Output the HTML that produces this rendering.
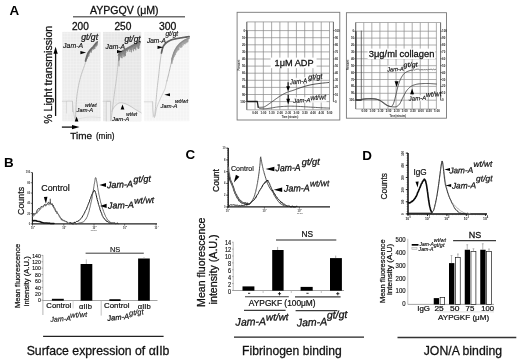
<!DOCTYPE html>
<html lang="en"><head><meta charset="utf-8"><title>Figure</title>
<style>
html,body{margin:0;padding:0;background:#fff;}
body{width:520px;height:363px;overflow:hidden;font-family:'Liberation Sans', sans-serif;}
svg{display:block;font-family:'Liberation Sans', sans-serif;}
</style></head><body>
<svg width="520" height="363" viewBox="0 0 520 363">
<defs>
<filter id="b1" x="-20%" y="-20%" width="140%" height="140%"><feGaussianBlur stdDeviation="0.45"/></filter>
<filter id="b2" x="-20%" y="-20%" width="140%" height="140%"><feGaussianBlur stdDeviation="0.8"/></filter>
<filter id="b0" x="-20%" y="-20%" width="140%" height="140%"><feGaussianBlur stdDeviation="0.3"/></filter>
</defs>
<rect width="520" height="363" fill="#fff"/>
<text x="9.4" y="15.3" font-size="13.4" font-weight="bold" fill="#000" >A</text>
<text x="4" y="167" font-size="13.4" font-weight="bold" fill="#000" >B</text>
<text x="185.5" y="158.8" font-size="13.4" font-weight="bold" fill="#000" >C</text>
<text x="362.3" y="160.2" font-size="13.4" font-weight="bold" fill="#000" >D</text>
<text x="90" y="14.4" font-size="10" fill="#111" stroke="#111" stroke-width="0.28" textLength="68.6" lengthAdjust="spacingAndGlyphs" >AYPGQV (μM)</text>
<line x1="73" y1="16.8" x2="185" y2="16.8" stroke="#6e6e6e" stroke-width="1.4" />
<text x="72" y="29.6" font-size="10" fill="#111" stroke="#111" stroke-width="0.28" textLength="16.8" lengthAdjust="spacingAndGlyphs" >200</text>
<text x="114.4" y="29.6" font-size="10" fill="#111" stroke="#111" stroke-width="0.28" textLength="17" lengthAdjust="spacingAndGlyphs" >250</text>
<text x="159" y="29.6" font-size="10" fill="#111" stroke="#111" stroke-width="0.28" textLength="17.4" lengthAdjust="spacingAndGlyphs" >300</text>
<text x="52" y="123.8" font-size="10.6" fill="#111" stroke="#111" stroke-width="0.28" textLength="98" lengthAdjust="spacingAndGlyphs" transform="rotate(-90 52 123.8)" >% Light transmission</text>
<line x1="55.6" y1="116" x2="55.6" y2="53" stroke="#111" stroke-width="1.3" />
<polygon points="55.60,46.80 57.75,53.80 53.45,53.80" fill="#000" />
<line x1="61.9" y1="127.1" x2="73" y2="127.1" stroke="#111" stroke-width="1.3" />
<polygon points="79.50,127.10 72.00,129.20 72.00,125.00" fill="#000" />
<text x="70.3" y="138.8" font-size="9.9" fill="#111" stroke="#111" stroke-width="0.28" textLength="21.7" lengthAdjust="spacingAndGlyphs" >Time</text>
<text x="95.9" y="138.6" font-size="8.2" fill="#111" stroke="#111" stroke-width="0.22" textLength="18.7" lengthAdjust="spacingAndGlyphs" >(min)</text>
<rect x="62.3" y="31.9" width="38.2" height="89.3" fill="#ececec" />
<path d="M64.30 31.9V121.2M67.40 31.9V121.2M70.50 31.9V121.2M73.60 31.9V121.2M76.70 31.9V121.2M79.80 31.9V121.2M82.90 31.9V121.2M86.00 31.9V121.2M89.10 31.9V121.2M92.20 31.9V121.2M95.30 31.9V121.2M98.40 31.9V121.2M62.3 33.40H100.5M62.3 36.50H100.5M62.3 39.60H100.5M62.3 42.70H100.5M62.3 45.80H100.5M62.3 48.90H100.5M62.3 52.00H100.5M62.3 55.10H100.5M62.3 58.20H100.5M62.3 61.30H100.5M62.3 64.40H100.5M62.3 67.50H100.5M62.3 70.60H100.5M62.3 73.70H100.5M62.3 76.80H100.5M62.3 79.90H100.5M62.3 83.00H100.5M62.3 86.10H100.5M62.3 89.20H100.5M62.3 92.30H100.5M62.3 95.40H100.5M62.3 98.50H100.5M62.3 101.60H100.5M62.3 104.70H100.5M62.3 107.80H100.5M62.3 110.90H100.5M62.3 114.00H100.5M62.3 117.10H100.5M62.3 120.20H100.5" stroke="#f5f5f5" stroke-width="0.5" fill="none"/>
<path d="M62.30 101.30 L72.30 101.30 L72.30 112.00 L72.30 101.30 L66.60 101.30 L66.60 113.00" fill="none" stroke="#c4c4c4" stroke-width="0.6" stroke-linejoin="round" stroke-linecap="round" />
<rect x="66.9" y="101.6" width="5.1" height="12" fill="#f0f0f0" />
<path d="M72.40 101.30 L73.20 110.00 L74.60 118.00 L76.00 120.40" fill="none" stroke="#c6c6c6" stroke-width="0.7" stroke-linejoin="round" stroke-linecap="round" />
<path d="M75.40 120.60 L75.51 118.20 L75.68 114.74 L75.85 111.05 L76.00 108.00 L76.11 105.83 L76.20 104.09 L76.29 102.55 L76.40 101.00 L76.53 99.44 L76.66 97.96 L76.82 96.50 L77.00 95.00 L77.22 93.42 L77.46 91.81 L77.73 90.19 L78.00 88.60 L78.27 87.06 L78.56 85.56 L78.86 84.05 L79.20 82.50 L79.58 80.89 L80.00 79.24 L80.44 77.60 L80.90 76.00 L81.38 74.46 L81.88 72.97 L82.39 71.49 L82.90 70.00 L83.43 68.50 L83.98 67.00 L84.51 65.50 L85.00 64.00 L85.47 62.36 L85.93 60.62 L86.32 59.08 L86.60 58.00" fill="none" stroke="#c2c2c2" stroke-width="1.0" stroke-linejoin="round" stroke-linecap="round" />
<path d="M86.20 58.49 L86.29 59.89 L86.39 58.11 L86.51 58.89 L86.64 57.21 L86.79 59.04 L86.95 55.96 L87.12 58.54 L87.29 54.93 L87.47 57.27 L87.64 53.98 L87.82 55.12 L88.00 53.35 L88.18 57.02 L88.36 52.47 L88.55 54.17 L88.75 52.13 L88.95 56.16 L89.15 51.50 L89.36 53.59 L89.56 51.17 L89.77 51.77 L89.98 50.55 L90.19 52.11 L90.40 49.59 L90.61 50.96 L90.83 49.17 L91.05 52.97 L91.27 48.60 L91.50 51.65 L91.73 48.41 L91.95 50.44 L92.17 47.90 L92.39 48.88 L92.60 47.17 L92.80 48.96 L93.00 47.11 L93.19 49.33 L93.37 46.47 L93.54 49.48 L93.70 46.15 L93.87 48.06 L94.03 45.96 L94.18 49.11 L94.34 45.25 L94.50 48.27 L94.66 45.02 L94.83 48.96 L95.00 44.74 L95.18 46.42 L95.38 44.44 L95.59 45.33 L95.80 43.60 L96.01 47.12 L96.22 42.94 L96.43 45.67 L96.62 42.41 L96.80 45.88 L96.96 42.44 L97.09 45.19 L97.20 42.23" fill="none" stroke="#808080" stroke-width="0.6" stroke-linejoin="round" stroke-linecap="round" filter="url(#b1)" opacity="0.95"/>
<path d="M85.60 61.00 L85.73 60.51 L85.91 59.81 L86.12 59.00 L86.36 58.14 L86.59 57.31 L86.80 56.60 L86.99 56.00 L87.16 55.46 L87.33 54.95 L87.51 54.45 L87.73 53.94 L88.00 53.40 L88.33 52.81 L88.70 52.20 L89.11 51.57 L89.54 50.96 L89.97 50.36 L90.40 49.80 L90.83 49.28 L91.27 48.79 L91.73 48.32 L92.17 47.87 L92.60 47.43 L93.00 47.00 L93.37 46.58 L93.70 46.18 L94.03 45.79 L94.34 45.40 L94.66 45.01 L95.00 44.60 L95.38 44.15 L95.80 43.65 L96.22 43.15 L96.62 42.68 L96.96 42.29 L97.20 42.00" fill="none" stroke="#6c6c6c" stroke-width="1.8" stroke-linejoin="round" stroke-linecap="round" filter="url(#b1)"/>
<path d="M76.50 120.00 L76.94 119.81 L77.53 119.53 L78.25 119.21 L79.08 118.89 L80.00 118.60 L81.04 118.33 L82.22 118.07 L83.48 117.81 L84.76 117.59 L86.00 117.40 L87.16 117.25 L88.29 117.13 L89.44 117.05 L90.66 117.00 L92.00 117.00 L93.63 117.07 L95.52 117.20 L97.40 117.36 L99.05 117.50 L100.20 117.60" fill="none" stroke="#d6d6d6" stroke-width="0.6" stroke-linejoin="round" stroke-linecap="round" />
<text x="81.2" y="40" font-size="8.8" font-style="italic" fill="#111" stroke="#111" stroke-width="0.22" textLength="16.9" lengthAdjust="spacingAndGlyphs" >gt/gt</text>
<text x="63.1" y="47.5" font-size="7.2" font-style="italic" fill="#111" stroke="#111" stroke-width="0.15" textLength="20" lengthAdjust="spacingAndGlyphs" >Jam-A</text>
<polygon points="86.10,52.60 80.40,54.25 80.40,50.95" fill="#000" />
<text x="85" y="106.8" font-size="5.2" font-style="italic" fill="#111" stroke="#111" stroke-width="0.15" textLength="11.6" lengthAdjust="spacingAndGlyphs" >wt/wt</text>
<text x="76.6" y="112.4" font-size="6.0" font-style="italic" fill="#111" stroke="#111" stroke-width="0.15" textLength="16.6" lengthAdjust="spacingAndGlyphs" >Jam-A</text>
<polygon points="76.60,116.60 78.40,121.40 74.80,121.40" fill="#000" />
<rect x="103.1" y="31.9" width="38.1" height="89.3" fill="#e6e6e6" />
<path d="M105.10 31.9V121.2M108.20 31.9V121.2M111.30 31.9V121.2M114.40 31.9V121.2M117.50 31.9V121.2M120.60 31.9V121.2M123.70 31.9V121.2M126.80 31.9V121.2M129.90 31.9V121.2M133.00 31.9V121.2M136.10 31.9V121.2M139.20 31.9V121.2M103.1 33.40H141.2M103.1 36.50H141.2M103.1 39.60H141.2M103.1 42.70H141.2M103.1 45.80H141.2M103.1 48.90H141.2M103.1 52.00H141.2M103.1 55.10H141.2M103.1 58.20H141.2M103.1 61.30H141.2M103.1 64.40H141.2M103.1 67.50H141.2M103.1 70.60H141.2M103.1 73.70H141.2M103.1 76.80H141.2M103.1 79.90H141.2M103.1 83.00H141.2M103.1 86.10H141.2M103.1 89.20H141.2M103.1 92.30H141.2M103.1 95.40H141.2M103.1 98.50H141.2M103.1 101.60H141.2M103.1 104.70H141.2M103.1 107.80H141.2M103.1 110.90H141.2M103.1 114.00H141.2M103.1 117.10H141.2M103.1 120.20H141.2" stroke="#f0f0f0" stroke-width="0.5" fill="none"/>
<path d="M111.90 111.40 L112.16 110.85 L112.53 110.06 L112.97 109.15 L113.46 108.23 L114.00 107.40 L114.60 106.65 L115.28 105.89 L115.99 105.17 L116.71 104.53 L117.40 104.00 L118.03 103.59 L118.64 103.27 L119.24 103.03 L119.89 102.88 L120.60 102.80 L121.39 102.81 L122.24 102.90 L123.14 103.07 L124.06 103.31 L125.00 103.60 L125.95 103.96 L126.93 104.39 L127.93 104.88 L128.95 105.42 L130.00 106.00 L131.08 106.65 L132.20 107.37 L133.33 108.13 L134.47 108.89 L135.60 109.60 L136.81 110.32 L138.11 111.06 L139.36 111.77 L140.44 112.37 L141.20 112.80 L141.2 121.2 L111.9 121.2 Z" fill="#f3f3f3"/>
<rect x="106.5" y="101.6" width="3.9" height="19.6" fill="#efefef" />
<path d="M103.10 101.30 L110.60 101.30 L110.60 121.00 L110.60 101.30 L106.30 101.30 L106.30 121.00" fill="none" stroke="#c2c2c2" stroke-width="0.6" stroke-linejoin="round" stroke-linecap="round" />
<path d="M111.90 111.40 L112.16 110.85 L112.53 110.06 L112.97 109.15 L113.46 108.23 L114.00 107.40 L114.60 106.65 L115.28 105.89 L115.99 105.17 L116.71 104.53 L117.40 104.00 L118.03 103.59 L118.64 103.27 L119.24 103.03 L119.89 102.88 L120.60 102.80 L121.39 102.81 L122.24 102.90 L123.14 103.07 L124.06 103.31 L125.00 103.60 L125.95 103.96 L126.93 104.39 L127.93 104.88 L128.95 105.42 L130.00 106.00 L131.08 106.65 L132.20 107.37 L133.33 108.13 L134.47 108.89 L135.60 109.60 L136.81 110.32 L138.11 111.06 L139.36 111.77 L140.44 112.37 L141.20 112.80" fill="none" stroke="#b4b4b4" stroke-width="0.7" stroke-linejoin="round" stroke-linecap="round" />
<path d="M111.00 120.60 L111.17 119.27 L111.40 117.46 L111.67 115.30 L111.98 112.92 L112.29 110.44 L112.60 108.00 L112.91 105.53 L113.23 102.92 L113.56 100.21 L113.90 97.46 L114.25 94.71 L114.60 92.00 L114.97 89.29 L115.36 86.52 L115.75 83.75 L116.13 81.04 L116.49 78.44 L116.80 76.00 L117.06 73.71 L117.30 71.52 L117.50 69.44 L117.68 67.48 L117.85 65.66 L118.00 64.00 L118.14 62.46 L118.27 61.04 L118.38 59.75 L118.47 58.63 L118.54 57.70 L118.60 57.00" fill="none" stroke="#c2c2c2" stroke-width="0.9" stroke-linejoin="round" stroke-linecap="round" />
<path d="M118.60 55.29 L118.63 60.66 L118.66 55.31 L118.70 59.85 L118.74 55.04 L118.78 61.07 L118.82 55.10 L118.87 58.82 L118.92 54.68 L118.97 56.28 L119.03 54.43 L119.09 59.23 L119.15 54.33 L119.22 59.91 L119.29 53.62 L119.37 57.24 L119.44 53.58 L119.53 54.97 L119.61 53.20 L119.70 55.53 L119.80 52.77 L119.90 54.72 L120.01 52.96 L120.12 54.91 L120.23 52.45 L120.35 56.16 L120.47 52.65 L120.60 54.28 L120.73 52.22 L120.87 56.68 L121.01 52.31 L121.15 58.00 L121.29 52.12 L121.44 54.85 L121.58 51.68 L121.73 55.12 L121.88 51.79 L122.04 58.24 L122.19 51.18 L122.35 53.76 L122.50 51.04 L122.65 53.89 L122.81 51.00 L122.97 55.66 L123.12 50.68 L123.28 52.26 L123.44 50.59 L123.60 54.08 L123.76 50.50 L123.93 57.11 L124.09 50.38 L124.26 54.51 L124.44 50.14 L124.62 55.19 L124.80 49.60 L124.99 56.22 L125.18 49.83 L125.38 55.86 L125.58 49.62 L125.79 52.98 L126.00 49.14 L126.22 51.14 L126.45 49.02 L126.69 50.65 L126.94 48.41 L127.19 51.17 L127.45 48.18 L127.71 51.60 L127.98 47.81 L128.25 49.43 L128.52 47.57 L128.79 49.68 L129.07 47.39 L129.34 48.95 L129.62 47.39 L129.89 51.89 L130.16 46.65 L130.43 49.60 L130.69 46.48 L130.95 49.94 L131.20 46.07 L131.45 52.34 L131.70 46.33 L131.95 49.97 L132.20 45.77 L132.45 47.63 L132.69 45.29 L132.94 48.79 L133.19 45.14 L133.43 51.22 L133.67 44.84 L133.92 46.55 L134.16 45.08 L134.40 49.10 L134.63 44.36 L134.87 48.95 L135.10 44.06 L135.33 48.64 L135.55 44.41 L135.78 50.26 L136.00 44.02 L136.22 46.72 L136.45 43.59 L136.68 45.98 L136.92 43.61 L137.15 47.75 L137.38 43.38 L137.62 46.40 L137.85 42.81 L138.08 48.82 L138.30 43.04 L138.52 48.83 L138.73 42.72 L138.93 48.44 L139.12 42.48 L139.30 45.00 L139.47 42.18 L139.62 45.54 L139.77 41.73 L139.89 43.61 L140.00 41.77" fill="none" stroke="#828282" stroke-width="0.65" stroke-linejoin="round" stroke-linecap="round" filter="url(#b1)" opacity="0.95"/>
<path d="M118.60 55.40 L118.71 55.13 L118.86 54.76 L119.03 54.31 L119.24 53.84 L119.50 53.39 L119.80 53.00 L120.15 52.67 L120.56 52.36 L121.01 52.08 L121.49 51.79 L121.99 51.50 L122.50 51.20 L123.02 50.89 L123.54 50.58 L124.09 50.27 L124.68 49.94 L125.31 49.59 L126.00 49.20 L126.77 48.76 L127.62 48.28 L128.52 47.78 L129.43 47.26 L130.34 46.76 L131.20 46.30 L132.03 45.87 L132.86 45.45 L133.67 45.04 L134.47 44.65 L135.25 44.27 L136.00 43.90 L136.76 43.52 L137.54 43.13 L138.30 42.75 L138.99 42.40 L139.57 42.11 L140.00 41.90" fill="none" stroke="#747474" stroke-width="1.9" stroke-linejoin="round" stroke-linecap="round" filter="url(#b1)"/>
<path d="M118.80 55.60 L119.00 66.00" fill="none" stroke="#9a9a9a" stroke-width="0.9" stroke-linejoin="round" stroke-linecap="round" filter="url(#b1)"/>
<text x="124.4" y="42.4" font-size="8.3" font-style="italic" fill="#111" stroke="#111" stroke-width="0.22" textLength="16.2" lengthAdjust="spacingAndGlyphs" >gt/gt</text>
<text x="105.6" y="48.8" font-size="7.2" font-style="italic" fill="#111" stroke="#111" stroke-width="0.15" textLength="19.4" lengthAdjust="spacingAndGlyphs" >Jam-A</text>
<polygon points="122.60,51.60 117.00,53.25 117.00,49.95" fill="#000" />
<polygon points="122.50,104.40 124.35,109.40 120.65,109.40" fill="#000" />
<text x="126.3" y="115.6" font-size="5.2" font-style="italic" fill="#111" stroke="#111" stroke-width="0.15" textLength="10.8" lengthAdjust="spacingAndGlyphs" >wt/wt</text>
<text x="111.9" y="121" font-size="6.2" font-style="italic" fill="#111" stroke="#111" stroke-width="0.15" textLength="17.4" lengthAdjust="spacingAndGlyphs" >Jam-A</text>
<rect x="144.3" y="31.9" width="45.0" height="89.3" fill="#f4f4f4" />
<path d="M146.30 31.9V121.2M149.40 31.9V121.2M152.50 31.9V121.2M155.60 31.9V121.2M158.70 31.9V121.2M161.80 31.9V121.2M164.90 31.9V121.2M168.00 31.9V121.2M171.10 31.9V121.2M174.20 31.9V121.2M177.30 31.9V121.2M180.40 31.9V121.2M183.50 31.9V121.2M186.60 31.9V121.2M144.3 33.40H189.3M144.3 36.50H189.3M144.3 39.60H189.3M144.3 42.70H189.3M144.3 45.80H189.3M144.3 48.90H189.3M144.3 52.00H189.3M144.3 55.10H189.3M144.3 58.20H189.3M144.3 61.30H189.3M144.3 64.40H189.3M144.3 67.50H189.3M144.3 70.60H189.3M144.3 73.70H189.3M144.3 76.80H189.3M144.3 79.90H189.3M144.3 83.00H189.3M144.3 86.10H189.3M144.3 89.20H189.3M144.3 92.30H189.3M144.3 95.40H189.3M144.3 98.50H189.3M144.3 101.60H189.3M144.3 104.70H189.3M144.3 107.80H189.3M144.3 110.90H189.3M144.3 114.00H189.3M144.3 117.10H189.3M144.3 120.20H189.3" stroke="#fbfbfb" stroke-width="0.5" fill="none"/>
<path d="M144.30 101.80 L152.40 101.80" fill="none" stroke="#c4c4c4" stroke-width="0.6" stroke-linejoin="round" stroke-linecap="round" />
<path d="M152.40 101.80 L152.80 110.00 L153.60 116.00 L154.40 117.60 L155.40 114.00 L156.60 108.00 L158.60 102.60 L161.60 96.00 L165.00 89.00 L167.00 80.60" fill="none" stroke="#c2c2c2" stroke-width="0.7" stroke-linejoin="round" stroke-linecap="round" />
<path d="M152.90 102.00 L152.90 117.00" fill="none" stroke="#cfcfcf" stroke-width="0.5" stroke-linejoin="round" stroke-linecap="round" />
<path d="M154.80 116.00 L154.91 114.72 L155.05 112.96 L155.23 110.88 L155.41 108.59 L155.61 106.25 L155.80 104.00 L155.98 101.78 L156.17 99.48 L156.36 97.12 L156.56 94.74 L156.77 92.36 L157.00 90.00 L157.25 87.66 L157.51 85.30 L157.79 82.94 L158.07 80.59 L158.34 78.28 L158.60 76.00 L158.84 73.75 L159.07 71.52 L159.30 69.31 L159.53 67.15 L159.76 65.04 L160.00 63.00 L160.26 60.98 L160.53 58.96 L160.80 57.00 L161.07 55.15 L161.34 53.46 L161.60 52.00 L161.86 50.76 L162.13 49.70 L162.40 48.81 L162.64 48.07 L162.85 47.47 L163.00 47.00" fill="none" stroke="#bdbdbd" stroke-width="0.9" stroke-linejoin="round" stroke-linecap="round" />
<path d="M161.40 53.00 L161.52 52.52 L161.66 51.87 L161.84 51.08 L162.04 50.23 L162.26 49.34 L162.49 48.47 L162.74 47.68 L163.00 47.00 L163.27 46.43 L163.56 45.91 L163.87 45.43 L164.19 44.98 L164.52 44.56 L164.87 44.17 L165.23 43.78 L165.60 43.40 L165.98 43.03 L166.38 42.67 L166.79 42.34 L167.21 42.02 L167.65 41.72 L168.09 41.43 L168.54 41.16 L169.00 40.90 L169.46 40.66 L169.93 40.44 L170.41 40.24 L170.90 40.06 L171.40 39.88 L171.92 39.72 L172.45 39.56 L173.00 39.40 L173.57 39.25 L174.16 39.11 L174.76 38.99 L175.38 38.87 L176.01 38.75 L176.66 38.64 L177.32 38.52 L178.00 38.40 L178.71 38.27 L179.45 38.15 L180.22 38.02 L180.99 37.89 L181.77 37.76 L182.54 37.64 L183.29 37.52 L184.00 37.40 L184.72 37.28 L185.46 37.17 L186.20 37.05 L186.93 36.94 L187.60 36.83 L188.20 36.74 L188.71 36.66 L189.10 36.60" fill="none" stroke="#5e5e5e" stroke-width="1.7" stroke-linejoin="round" stroke-linecap="round" filter="url(#b1)"/>
<path d="M166.90 81.00 L167.08 80.34 L167.32 79.41 L167.61 78.31 L167.91 77.14 L168.20 76.00 L168.47 74.88 L168.74 73.72 L169.02 72.52 L169.31 71.28 L169.60 70.00 L169.90 68.66 L170.22 67.27 L170.54 65.85 L170.86 64.42 L171.20 63.00 L171.58 61.49 L171.99 59.86 L172.40 58.30 L172.75 56.95 L173.00 56.00" fill="none" stroke="#b6b6b6" stroke-width="1.0" stroke-linejoin="round" stroke-linecap="round" />
<path d="M172.00 59.00 L172.15 58.50 L172.35 57.82 L172.58 57.01 L172.84 56.11 L173.12 55.18 L173.41 54.25 L173.71 53.38 L174.00 52.60 L174.29 51.90 L174.59 51.23 L174.90 50.58 L175.21 49.95 L175.54 49.34 L175.88 48.75 L176.23 48.17 L176.60 47.60 L176.98 47.05 L177.38 46.51 L177.79 45.98 L178.21 45.48 L178.65 44.98 L179.09 44.51 L179.54 44.05 L180.00 43.60 L180.46 43.17 L180.93 42.77 L181.41 42.38 L181.89 42.01 L182.39 41.65 L182.91 41.30 L183.44 40.95 L184.00 40.60 L184.62 40.24 L185.32 39.86 L186.06 39.48 L186.80 39.11 L187.51 38.77 L188.16 38.46 L188.70 38.20 L189.10 38.00" fill="none" stroke="#8a8a8a" stroke-width="1.5" stroke-linejoin="round" stroke-linecap="round" filter="url(#b1)"/>
<path d="M171.60 59.86 L171.67 63.58 L171.74 59.85 L171.82 62.10 L171.92 59.28 L172.02 63.66 L172.12 58.64 L172.24 60.46 L172.36 57.46 L172.48 59.14 L172.61 56.66 L172.75 58.25 L172.88 56.10 L173.02 60.21 L173.16 55.41 L173.30 57.72 L173.44 54.50 L173.58 58.23 L173.72 53.42 L173.86 56.96 L174.00 53.25 L174.14 56.82 L174.27 52.54 L174.41 55.00 L174.55 51.60 L174.69 55.66 L174.84 51.12 L174.98 55.14 L175.13 50.94 L175.28 52.97 L175.43 50.05 L175.58 54.63 L175.73 49.72 L175.88 51.00 L176.04 48.84 L176.19 50.42 L176.35 48.81 L176.51 52.54 L176.67 47.86 L176.84 52.14 L177.00 47.89 L177.17 51.00 L177.33 47.05 L177.50 50.11 L177.68 46.47 L177.85 47.54 L178.02 46.55 L178.20 49.66 L178.38 45.87 L178.56 50.38 L178.74 45.41 L178.92 49.74 L179.10 45.26 L179.29 46.71 L179.47 44.53 L179.66 46.67 L179.84 44.16 L180.03 47.48 L180.22 43.81 L180.41 46.45 L180.60 43.38 L180.79 48.07 L180.99 43.17 L181.18 45.92 L181.38 42.97 L181.59 47.38 L181.79 42.55 L181.99 47.12 L182.20 42.29 L182.41 45.26 L182.61 42.00 L182.82 42.91 L183.02 41.66 L183.23 43.28 L183.43 41.11 L183.63 45.47 L183.83 40.94 L184.03 43.89 L184.22 41.00 L184.41 43.96 L184.60 40.50 L184.79 43.54 L184.98 40.37 L185.18 44.34 L185.37 39.84 L185.57 43.18 L185.77 39.66 L185.97 41.79 L186.17 39.72 L186.36 42.46 L186.55 39.35 L186.73 43.24 L186.91 39.33 L187.09 41.75 L187.25 38.94 L187.40 41.80 L187.55 38.69 L187.68 42.37 L187.80 38.50 L187.91 41.59 L188.00 38.39" fill="none" stroke="#949494" stroke-width="0.55" stroke-linejoin="round" stroke-linecap="round" filter="url(#b1)" opacity="0.9"/>
<text x="165.4" y="36.2" font-size="6.6" font-style="italic" fill="#111" stroke="#111" stroke-width="0.15" textLength="12.8" lengthAdjust="spacingAndGlyphs" >gt/gt</text>
<text x="146.9" y="43.1" font-size="7.0" font-style="italic" fill="#111" stroke="#111" stroke-width="0.15" textLength="19" lengthAdjust="spacingAndGlyphs" >Jam-A</text>
<polygon points="163.20,47.30 157.50,48.90 157.50,45.70" fill="#000" />
<polygon points="164.40,94.80 170.00,93.25 170.00,96.35" fill="#000" />
<text x="175" y="102.5" font-size="5.8" font-style="italic" fill="#111" stroke="#111" stroke-width="0.15" textLength="13.1" lengthAdjust="spacingAndGlyphs" >wt/wt</text>
<text x="160.6" y="107.8" font-size="6.0" font-style="italic" fill="#111" stroke="#111" stroke-width="0.15" textLength="16.9" lengthAdjust="spacingAndGlyphs" >Jam-A</text>
<rect x="237.1" y="12.3" width="102.7" height="107.7" fill="#fefefe" stroke="#777" stroke-width="0.9" />
<path d="M246.80 21.9V109.8M255.07 21.9V109.8M263.34 21.9V109.8M271.61 21.9V109.8M279.88 21.9V109.8M288.15 21.9V109.8M296.42 21.9V109.8M304.69 21.9V109.8M312.96 21.9V109.8M321.23 21.9V109.8M329.50 21.9V109.8M246.8 21.90H329.5M246.8 30.60H329.5M246.8 37.70H329.5M246.8 44.80H329.5M246.8 51.90H329.5M246.8 59.00H329.5M246.8 66.10H329.5M246.8 73.20H329.5M246.8 80.30H329.5M246.8 87.40H329.5M246.8 94.50H329.5M246.8 101.60H329.5M246.8 109.80H329.5" stroke="#868686" stroke-width="0.7" fill="none"/>
<line x1="329.5" y1="21.9" x2="333.4" y2="21.9" stroke="#868686" stroke-width="0.7" />
<line x1="246.8" y1="21.9" x2="246.8" y2="109.8" stroke="#666" stroke-width="0.9" />
<line x1="247.0" y1="30.6" x2="247.0" y2="101.6" stroke="#3a3a3a" stroke-width="1.3" />
<line x1="333.4" y1="21.9" x2="333.4" y2="101.6" stroke="#555" stroke-width="0.9" />
<line x1="245.4" y1="30.6" x2="246.8" y2="30.6" stroke="#333" stroke-width="0.8" />
<line x1="333.4" y1="30.6" x2="334.6" y2="30.6" stroke="#333" stroke-width="0.8" />
<text x="245.2" y="31.6" font-size="2.9" text-anchor="end" font-weight="bold" fill="#222" >0</text>
<text x="334.9" y="31.6" font-size="2.9" font-weight="bold" fill="#222" >100</text>
<line x1="245.4" y1="37.7" x2="246.8" y2="37.7" stroke="#333" stroke-width="0.8" />
<line x1="333.4" y1="37.7" x2="334.6" y2="37.7" stroke="#333" stroke-width="0.8" />
<text x="245.2" y="38.7" font-size="2.9" text-anchor="end" font-weight="bold" fill="#222" >10</text>
<text x="334.9" y="38.7" font-size="2.9" font-weight="bold" fill="#222" >90</text>
<line x1="245.4" y1="44.8" x2="246.8" y2="44.8" stroke="#333" stroke-width="0.8" />
<line x1="333.4" y1="44.8" x2="334.6" y2="44.8" stroke="#333" stroke-width="0.8" />
<text x="245.2" y="45.8" font-size="2.9" text-anchor="end" font-weight="bold" fill="#222" >20</text>
<text x="334.9" y="45.8" font-size="2.9" font-weight="bold" fill="#222" >80</text>
<line x1="245.4" y1="51.9" x2="246.8" y2="51.9" stroke="#333" stroke-width="0.8" />
<line x1="333.4" y1="51.9" x2="334.6" y2="51.9" stroke="#333" stroke-width="0.8" />
<text x="245.2" y="52.9" font-size="2.9" text-anchor="end" font-weight="bold" fill="#222" >30</text>
<text x="334.9" y="52.9" font-size="2.9" font-weight="bold" fill="#222" >70</text>
<line x1="245.4" y1="59.0" x2="246.8" y2="59.0" stroke="#333" stroke-width="0.8" />
<line x1="333.4" y1="59.0" x2="334.6" y2="59.0" stroke="#333" stroke-width="0.8" />
<text x="245.2" y="60.0" font-size="2.9" text-anchor="end" font-weight="bold" fill="#222" >40</text>
<text x="334.9" y="60.0" font-size="2.9" font-weight="bold" fill="#222" >60</text>
<line x1="245.4" y1="66.1" x2="246.8" y2="66.1" stroke="#333" stroke-width="0.8" />
<line x1="333.4" y1="66.1" x2="334.6" y2="66.1" stroke="#333" stroke-width="0.8" />
<text x="245.2" y="67.1" font-size="2.9" text-anchor="end" font-weight="bold" fill="#222" >50</text>
<text x="334.9" y="67.1" font-size="2.9" font-weight="bold" fill="#222" >50</text>
<line x1="245.4" y1="73.2" x2="246.8" y2="73.2" stroke="#333" stroke-width="0.8" />
<line x1="333.4" y1="73.2" x2="334.6" y2="73.2" stroke="#333" stroke-width="0.8" />
<text x="245.2" y="74.2" font-size="2.9" text-anchor="end" font-weight="bold" fill="#222" >60</text>
<text x="334.9" y="74.2" font-size="2.9" font-weight="bold" fill="#222" >40</text>
<line x1="245.4" y1="80.3" x2="246.8" y2="80.3" stroke="#333" stroke-width="0.8" />
<line x1="333.4" y1="80.3" x2="334.6" y2="80.3" stroke="#333" stroke-width="0.8" />
<text x="245.2" y="81.3" font-size="2.9" text-anchor="end" font-weight="bold" fill="#222" >70</text>
<text x="334.9" y="81.3" font-size="2.9" font-weight="bold" fill="#222" >30</text>
<line x1="245.4" y1="87.4" x2="246.8" y2="87.4" stroke="#333" stroke-width="0.8" />
<line x1="333.4" y1="87.4" x2="334.6" y2="87.4" stroke="#333" stroke-width="0.8" />
<text x="245.2" y="88.4" font-size="2.9" text-anchor="end" font-weight="bold" fill="#222" >80</text>
<text x="334.9" y="88.4" font-size="2.9" font-weight="bold" fill="#222" >20</text>
<line x1="245.4" y1="94.5" x2="246.8" y2="94.5" stroke="#333" stroke-width="0.8" />
<line x1="333.4" y1="94.5" x2="334.6" y2="94.5" stroke="#333" stroke-width="0.8" />
<text x="245.2" y="95.5" font-size="2.9" text-anchor="end" font-weight="bold" fill="#222" >90</text>
<text x="334.9" y="95.5" font-size="2.9" font-weight="bold" fill="#222" >10</text>
<line x1="245.4" y1="101.6" x2="246.8" y2="101.6" stroke="#333" stroke-width="0.8" />
<line x1="333.4" y1="101.6" x2="334.6" y2="101.6" stroke="#333" stroke-width="0.8" />
<text x="245.2" y="102.6" font-size="2.9" text-anchor="end" font-weight="bold" fill="#222" >100</text>
<text x="334.9" y="102.6" font-size="2.9" font-weight="bold" fill="#222" >0</text>
<text x="255.17" y="114.0" font-size="2.9" text-anchor="middle" font-weight="bold" fill="#222" >0:00</text>
<text x="263.44" y="114.0" font-size="2.9" text-anchor="middle" font-weight="bold" fill="#222" >1:00</text>
<text x="271.71" y="114.0" font-size="2.9" text-anchor="middle" font-weight="bold" fill="#222" >1:30</text>
<text x="279.98" y="114.0" font-size="2.9" text-anchor="middle" font-weight="bold" fill="#222" >2:00</text>
<text x="288.25" y="114.0" font-size="2.9" text-anchor="middle" font-weight="bold" fill="#222" >2:30</text>
<text x="296.52" y="114.0" font-size="2.9" text-anchor="middle" font-weight="bold" fill="#222" >3:00</text>
<text x="304.79" y="114.0" font-size="2.9" text-anchor="middle" font-weight="bold" fill="#222" >3:30</text>
<text x="313.06" y="114.0" font-size="2.9" text-anchor="middle" font-weight="bold" fill="#222" >4:00</text>
<text x="321.33" y="114.0" font-size="2.9" text-anchor="middle" font-weight="bold" fill="#222" >4:30</text>
<text x="329.6" y="114.0" font-size="2.9" text-anchor="middle" font-weight="bold" fill="#222" >5:00</text>
<text x="281.67" y="118.3" font-size="2.8" font-weight="bold" fill="#222" textLength="16.6" lengthAdjust="spacingAndGlyphs" >Time (minutes)</text>
<text x="240.2" y="70.45" font-size="2.9" font-weight="bold" fill="#222" transform="rotate(-90 240.2 70.45)" >Percent</text>
<path d="M247.60 101.50 L257.30 101.50 L257.70 104.00 L258.20 107.20" fill="none" stroke="#1e1e1e" stroke-width="1.3" stroke-linejoin="round" stroke-linecap="round" />
<path d="M258.20 107.20 L258.41 107.21 L258.68 107.24 L259.00 107.26 L259.36 107.29 L259.76 107.30 L260.17 107.31 L260.60 107.30 L261.05 107.29 L261.54 107.28 L262.05 107.26 L262.58 107.23 L263.12 107.17 L263.66 107.06 L264.20 106.90 L264.73 106.67 L265.27 106.39 L265.81 106.07 L266.36 105.71 L266.91 105.34 L267.46 104.97 L268.00 104.60 L268.54 104.24 L269.08 103.86 L269.62 103.48 L270.16 103.09 L270.70 102.70 L271.25 102.30 L271.80 101.90 L272.36 101.50 L272.93 101.08 L273.50 100.67 L274.07 100.25 L274.64 99.83 L275.22 99.41 L275.80 99.00 L276.38 98.59 L276.96 98.18 L277.55 97.77 L278.14 97.37 L278.73 96.97 L279.31 96.58 L279.90 96.20 L280.49 95.83 L281.07 95.47 L281.66 95.11 L282.25 94.77 L282.84 94.43 L283.42 94.11 L284.00 93.80 L284.57 93.51 L285.12 93.24 L285.67 92.98 L286.22 92.73 L286.79 92.48 L287.38 92.24 L288.00 92.00 L288.65 91.77 L289.33 91.55 L290.02 91.33 L290.73 91.12 L291.47 90.90 L292.22 90.66 L293.00 90.40 L293.80 90.12 L294.61 89.82 L295.45 89.50 L296.31 89.17 L297.18 88.85 L298.08 88.52 L299.00 88.20 L299.95 87.88 L300.93 87.55 L301.93 87.23 L302.95 86.90 L303.97 86.58 L304.99 86.28 L306.00 86.00 L307.00 85.73 L308.00 85.48 L309.00 85.24 L310.00 85.01 L311.00 84.80 L312.00 84.59 L313.00 84.40 L313.99 84.22 L314.95 84.07 L315.92 83.92 L316.89 83.79 L317.88 83.66 L318.92 83.53 L320.00 83.40 L321.22 83.26 L322.59 83.11 L324.03 82.96 L325.43 82.82 L326.72 82.69 L327.81 82.58 L328.60 82.50" fill="none" stroke="#3e3e3e" stroke-width="0.9" stroke-linejoin="round" stroke-linecap="round" />
<path d="M258.20 107.20 L258.32 107.34 L258.45 107.54 L258.62 107.78 L258.86 108.01 L259.18 108.23 L259.60 108.40 L260.14 108.52 L260.79 108.63 L261.51 108.71 L262.30 108.77 L263.14 108.80 L264.00 108.80 L264.88 108.77 L265.81 108.70 L266.77 108.61 L267.79 108.49 L268.87 108.35 L270.00 108.20 L271.22 108.02 L272.52 107.79 L273.88 107.55 L275.26 107.31 L276.64 107.08 L278.00 106.90 L279.34 106.75 L280.70 106.63 L282.06 106.53 L283.41 106.44 L284.72 106.36 L286.00 106.30 L287.20 106.25 L288.33 106.21 L289.44 106.19 L290.56 106.18 L291.73 106.18 L293.00 106.20 L294.37 106.24 L295.81 106.29 L297.31 106.36 L298.85 106.43 L300.42 106.52 L302.00 106.60 L303.61 106.69 L305.26 106.79 L306.94 106.89 L308.63 106.99 L310.32 107.10 L312.00 107.20 L313.70 107.30 L315.43 107.41 L317.16 107.52 L318.86 107.62 L320.48 107.72 L322.00 107.80 L323.47 107.87 L324.93 107.93 L326.32 107.99 L327.58 108.03 L328.62 108.07 L329.40 108.10" fill="none" stroke="#3c3c3c" stroke-width="0.8" stroke-linejoin="round" stroke-linecap="round" />
<rect x="270.6" y="57.6" width="46" height="10.6" fill="#fefefe" />
<text x="274.6" y="66.3" font-size="9.6" fill="#111" stroke="#111" stroke-width="0.28" textLength="39" lengthAdjust="spacingAndGlyphs" >1μM ADP</text>
<rect x="289.6" y="78.2" width="20" height="6.2" fill="#fefefe" opacity="0.85" transform="rotate(-4 289.6 84.4)"/>
<g transform="rotate(-4 289.9 84.4)">
<text x="289.9" y="84.4" font-size="7.2" font-style="italic" fill="#111" stroke="#111" stroke-width="0.15" textLength="17.5" lengthAdjust="spacingAndGlyphs" >Jam-A</text>
<text x="308.6" y="81.0" font-size="7.4" font-style="italic" fill="#111" stroke="#111" stroke-width="0.15" textLength="14.4" lengthAdjust="spacingAndGlyphs" >gt/gt</text>
</g>
<line x1="288.1" y1="82.2" x2="288.1" y2="87" stroke="#000" stroke-width="1.1" />
<polygon points="288.10,91.60 286.20,86.20 290.00,86.20" fill="#000" />
<line x1="288.2" y1="94.8" x2="288.2" y2="99.2" stroke="#000" stroke-width="1.1" />
<polygon points="288.20,104.40 286.30,98.80 290.10,98.80" fill="#000" />
<rect x="293.6" y="97.2" width="33" height="5.4" fill="#fefefe" opacity="0.8"/>
<g transform="rotate(-3 293.2 102.9)">
<text x="293.2" y="102.9" font-size="6.0" font-style="italic" fill="#111" stroke="#111" stroke-width="0.15" textLength="17.4" lengthAdjust="spacingAndGlyphs" >Jam-A</text>
<text x="310.6" y="101.1" font-size="7.2" font-style="italic" fill="#111" stroke="#111" stroke-width="0.15" textLength="15.7" lengthAdjust="spacingAndGlyphs" >wt/wt</text>
</g>
<rect x="346.4" y="12.7" width="100.1" height="105.5" fill="#fefefe" stroke="#777" stroke-width="0.9" />
<path d="M355.70 22.5V109M363.77 22.5V109M371.84 22.5V109M379.91 22.5V109M387.98 22.5V109M396.05 22.5V109M404.12 22.5V109M412.19 22.5V109M420.26 22.5V109M428.33 22.5V109M436.40 22.5V109M355.7 22.50H436.4M355.7 31.20H436.4M355.7 38.10H436.4M355.7 45.00H436.4M355.7 51.90H436.4M355.7 58.80H436.4M355.7 65.70H436.4M355.7 72.60H436.4M355.7 79.50H436.4M355.7 86.40H436.4M355.7 93.30H436.4M355.7 100.20H436.4M355.7 109.00H436.4" stroke="#8c8c8c" stroke-width="0.7" fill="none"/>
<line x1="436.4" y1="22.5" x2="440.6" y2="22.5" stroke="#8c8c8c" stroke-width="0.7" />
<line x1="355.7" y1="22.5" x2="355.7" y2="109" stroke="#666" stroke-width="0.9" />
<line x1="355.9" y1="31.2" x2="355.9" y2="100.2" stroke="#3a3a3a" stroke-width="1.3" />
<line x1="440.6" y1="22.5" x2="440.6" y2="100.2" stroke="#555" stroke-width="0.9" />
<line x1="354.3" y1="31.2" x2="355.7" y2="31.2" stroke="#333" stroke-width="0.8" />
<line x1="440.6" y1="31.2" x2="441.8" y2="31.2" stroke="#333" stroke-width="0.8" />
<text x="354.1" y="32.2" font-size="2.9" text-anchor="end" font-weight="bold" fill="#222" >0</text>
<text x="442.1" y="32.2" font-size="2.9" font-weight="bold" fill="#222" >100</text>
<line x1="354.3" y1="38.1" x2="355.7" y2="38.1" stroke="#333" stroke-width="0.8" />
<line x1="440.6" y1="38.1" x2="441.8" y2="38.1" stroke="#333" stroke-width="0.8" />
<text x="354.1" y="39.1" font-size="2.9" text-anchor="end" font-weight="bold" fill="#222" >10</text>
<text x="442.1" y="39.1" font-size="2.9" font-weight="bold" fill="#222" >90</text>
<line x1="354.3" y1="45.0" x2="355.7" y2="45.0" stroke="#333" stroke-width="0.8" />
<line x1="440.6" y1="45.0" x2="441.8" y2="45.0" stroke="#333" stroke-width="0.8" />
<text x="354.1" y="46.0" font-size="2.9" text-anchor="end" font-weight="bold" fill="#222" >20</text>
<text x="442.1" y="46.0" font-size="2.9" font-weight="bold" fill="#222" >80</text>
<line x1="354.3" y1="51.9" x2="355.7" y2="51.9" stroke="#333" stroke-width="0.8" />
<line x1="440.6" y1="51.9" x2="441.8" y2="51.9" stroke="#333" stroke-width="0.8" />
<text x="354.1" y="52.9" font-size="2.9" text-anchor="end" font-weight="bold" fill="#222" >30</text>
<text x="442.1" y="52.9" font-size="2.9" font-weight="bold" fill="#222" >70</text>
<line x1="354.3" y1="58.8" x2="355.7" y2="58.8" stroke="#333" stroke-width="0.8" />
<line x1="440.6" y1="58.8" x2="441.8" y2="58.8" stroke="#333" stroke-width="0.8" />
<text x="354.1" y="59.8" font-size="2.9" text-anchor="end" font-weight="bold" fill="#222" >40</text>
<text x="442.1" y="59.8" font-size="2.9" font-weight="bold" fill="#222" >60</text>
<line x1="354.3" y1="65.7" x2="355.7" y2="65.7" stroke="#333" stroke-width="0.8" />
<line x1="440.6" y1="65.7" x2="441.8" y2="65.7" stroke="#333" stroke-width="0.8" />
<text x="354.1" y="66.7" font-size="2.9" text-anchor="end" font-weight="bold" fill="#222" >50</text>
<text x="442.1" y="66.7" font-size="2.9" font-weight="bold" fill="#222" >50</text>
<line x1="354.3" y1="72.6" x2="355.7" y2="72.6" stroke="#333" stroke-width="0.8" />
<line x1="440.6" y1="72.6" x2="441.8" y2="72.6" stroke="#333" stroke-width="0.8" />
<text x="354.1" y="73.6" font-size="2.9" text-anchor="end" font-weight="bold" fill="#222" >60</text>
<text x="442.1" y="73.6" font-size="2.9" font-weight="bold" fill="#222" >40</text>
<line x1="354.3" y1="79.5" x2="355.7" y2="79.5" stroke="#333" stroke-width="0.8" />
<line x1="440.6" y1="79.5" x2="441.8" y2="79.5" stroke="#333" stroke-width="0.8" />
<text x="354.1" y="80.5" font-size="2.9" text-anchor="end" font-weight="bold" fill="#222" >70</text>
<text x="442.1" y="80.5" font-size="2.9" font-weight="bold" fill="#222" >30</text>
<line x1="354.3" y1="86.4" x2="355.7" y2="86.4" stroke="#333" stroke-width="0.8" />
<line x1="440.6" y1="86.4" x2="441.8" y2="86.4" stroke="#333" stroke-width="0.8" />
<text x="354.1" y="87.4" font-size="2.9" text-anchor="end" font-weight="bold" fill="#222" >80</text>
<text x="442.1" y="87.4" font-size="2.9" font-weight="bold" fill="#222" >20</text>
<line x1="354.3" y1="93.3" x2="355.7" y2="93.3" stroke="#333" stroke-width="0.8" />
<line x1="440.6" y1="93.3" x2="441.8" y2="93.3" stroke="#333" stroke-width="0.8" />
<text x="354.1" y="94.3" font-size="2.9" text-anchor="end" font-weight="bold" fill="#222" >90</text>
<text x="442.1" y="94.3" font-size="2.9" font-weight="bold" fill="#222" >10</text>
<line x1="354.3" y1="100.2" x2="355.7" y2="100.2" stroke="#333" stroke-width="0.8" />
<line x1="440.6" y1="100.2" x2="441.8" y2="100.2" stroke="#333" stroke-width="0.8" />
<text x="354.1" y="101.2" font-size="2.9" text-anchor="end" font-weight="bold" fill="#222" >100</text>
<text x="442.1" y="101.2" font-size="2.9" font-weight="bold" fill="#222" >0</text>
<text x="364.37" y="112.3" font-size="2.9" text-anchor="middle" font-weight="bold" fill="#222" >0:00</text>
<text x="372.44" y="112.3" font-size="2.9" text-anchor="middle" font-weight="bold" fill="#222" >1:00</text>
<text x="380.51" y="112.3" font-size="2.9" text-anchor="middle" font-weight="bold" fill="#222" >1:30</text>
<text x="388.58" y="112.3" font-size="2.9" text-anchor="middle" font-weight="bold" fill="#222" >2:00</text>
<text x="396.65" y="112.3" font-size="2.9" text-anchor="middle" font-weight="bold" fill="#222" >2:30</text>
<text x="404.72" y="112.3" font-size="2.9" text-anchor="middle" font-weight="bold" fill="#222" >3:00</text>
<text x="412.79" y="112.3" font-size="2.9" text-anchor="middle" font-weight="bold" fill="#222" >3:30</text>
<text x="420.86" y="112.3" font-size="2.9" text-anchor="middle" font-weight="bold" fill="#222" >4:00</text>
<text x="428.93" y="112.3" font-size="2.9" text-anchor="middle" font-weight="bold" fill="#222" >4:30</text>
<text x="437.0" y="112.3" font-size="2.9" text-anchor="middle" font-weight="bold" fill="#222" >5:00</text>
<text x="389.53" y="116.9" font-size="2.8" font-weight="bold" fill="#222" textLength="16.6" lengthAdjust="spacingAndGlyphs" >Time (minutes)</text>
<text x="349.1" y="70.35" font-size="2.9" font-weight="bold" fill="#222" transform="rotate(-90 349.1 70.35)" >Percent</text>
<path d="M356.50 100.00 L361.00 100.00" fill="none" stroke="#1e1e1e" stroke-width="1.3" stroke-linejoin="round" stroke-linecap="round" />
<path d="M361.30 100.20 L361.30 31.00" fill="none" stroke="#4a4a4a" stroke-width="0.8" stroke-linejoin="round" stroke-linecap="round" />
<path d="M361.60 99.40 L361.95 99.35 L362.42 99.29 L362.99 99.21 L363.62 99.13 L364.30 99.05 L365.00 99.00 L365.74 98.96 L366.55 98.93 L367.40 98.91 L368.27 98.90 L369.15 98.90 L370.00 98.90 L370.84 98.91 L371.70 98.92 L372.56 98.94 L373.41 98.97 L374.22 99.02 L375.00 99.10 L375.73 99.20 L376.43 99.31 L377.09 99.44 L377.74 99.60 L378.37 99.78 L379.00 100.00 L379.62 100.26 L380.23 100.55 L380.82 100.88 L381.40 101.21 L381.96 101.56 L382.50 101.90 L383.02 102.24 L383.52 102.60 L384.01 102.96 L384.48 103.31 L384.94 103.67 L385.40 104.00 L385.85 104.33 L386.29 104.66 L386.72 104.98 L387.14 105.29 L387.57 105.56 L388.00 105.80 L388.44 106.01 L388.90 106.21 L389.35 106.37 L389.79 106.50 L390.21 106.58 L390.60 106.60 L390.95 106.56 L391.27 106.47 L391.58 106.34 L391.86 106.15 L392.13 105.90 L392.40 105.60 L392.66 105.23 L392.90 104.79 L393.14 104.29 L393.36 103.75 L393.58 103.18 L393.80 102.60 L394.01 102.00 L394.21 101.38 L394.41 100.72 L394.61 100.04 L394.80 99.34 L395.00 98.60 L395.20 97.83 L395.40 97.03 L395.59 96.20 L395.79 95.35 L395.99 94.48 L396.20 93.60 L396.41 92.69 L396.63 91.73 L396.84 90.76 L397.06 89.80 L397.28 88.87 L397.50 88.00 L397.71 87.19 L397.92 86.44 L398.13 85.71 L398.34 85.01 L398.57 84.31 L398.80 83.60 L399.04 82.88 L399.30 82.16 L399.56 81.45 L399.83 80.75 L400.11 80.06 L400.40 79.40 L400.71 78.75 L401.03 78.12 L401.36 77.50 L401.70 76.90 L402.05 76.34 L402.40 75.80 L402.75 75.30 L403.09 74.83 L403.44 74.39 L403.80 73.97 L404.18 73.58 L404.60 73.20 L405.04 72.85 L405.49 72.53 L405.97 72.23 L406.47 71.94 L407.02 71.67 L407.60 71.40 L408.29 71.13 L409.10 70.85 L409.94 70.59 L410.74 70.35 L411.42 70.15 L411.90 70.00" fill="none" stroke="#3e3e3e" stroke-width="0.9" stroke-linejoin="round" stroke-linecap="round" />
<path d="M411.90 70.40 L412.20 70.15 L412.58 70.28 L413.03 70.29 L413.53 69.63 L414.07 69.85 L414.65 70.14 L415.24 70.00 L415.84 69.33 L416.43 69.28 L417.00 69.55 L417.56 69.21 L418.14 69.36 L418.73 69.22 L419.34 69.77 L419.94 69.89 L420.56 70.01 L421.17 69.37 L421.79 69.89 L422.40 69.84 L423.00 69.38 L423.60 70.03 L424.19 70.09 L424.78 69.40 L425.37 70.03 L425.96 69.50 L426.56 69.55 L427.16 69.98 L427.76 69.82 L428.38 69.20 L429.00 69.44 L429.67 69.52 L430.39 69.37 L431.14 69.26 L431.91 69.40 L432.68 69.79 L433.41 69.18 L434.09 69.69 L434.69 69.61 L435.20 69.25 L435.60 69.55" fill="none" stroke="#444" stroke-width="0.7" stroke-linejoin="round" stroke-linecap="round" />
<path d="M361.60 99.40 L362.07 99.33 L362.72 99.23 L363.49 99.11 L364.33 98.99 L365.18 98.88 L366.00 98.80 L366.80 98.74 L367.62 98.68 L368.46 98.64 L369.31 98.61 L370.16 98.59 L371.00 98.60 L371.84 98.62 L372.70 98.64 L373.56 98.69 L374.41 98.76 L375.22 98.86 L376.00 99.00 L376.73 99.19 L377.43 99.41 L378.09 99.66 L378.74 99.95 L379.37 100.26 L380.00 100.60 L380.61 100.98 L381.20 101.41 L381.78 101.86 L382.35 102.33 L382.92 102.78 L383.50 103.20 L384.08 103.60 L384.65 104.00 L385.22 104.39 L385.80 104.76 L386.39 105.10 L387.00 105.40 L387.64 105.67 L388.30 105.91 L388.97 106.12 L389.65 106.30 L390.33 106.46 L391.00 106.60 L391.68 106.72 L392.39 106.81 L393.09 106.88 L393.77 106.92 L394.41 106.93 L395.00 106.90 L395.52 106.84 L395.98 106.75 L396.40 106.63 L396.80 106.47 L397.19 106.26 L397.60 106.00 L398.01 105.69 L398.41 105.35 L398.81 104.96 L399.21 104.51 L399.60 103.99 L400.00 103.40 L400.40 102.69 L400.81 101.87 L401.23 100.97 L401.63 100.07 L402.02 99.19 L402.40 98.40 L402.76 97.69 L403.10 97.04 L403.42 96.41 L403.75 95.81 L404.07 95.21 L404.40 94.60 L404.73 93.98 L405.06 93.35 L405.39 92.72 L405.72 92.12 L406.06 91.54 L406.40 91.00 L406.75 90.50 L407.11 90.04 L407.48 89.60 L407.84 89.19 L408.22 88.79 L408.60 88.40 L408.98 88.03 L409.36 87.67 L409.75 87.33 L410.15 87.00 L410.56 86.69 L411.00 86.40 L411.45 86.13 L411.92 85.87 L412.40 85.64 L412.90 85.41 L413.44 85.20 L414.00 85.00 L414.60 84.80 L415.22 84.61 L415.88 84.44 L416.56 84.27 L417.26 84.13 L418.00 84.00 L418.78 83.90 L419.59 83.81 L420.44 83.74 L421.30 83.69 L422.16 83.64 L423.00 83.60 L423.84 83.56 L424.70 83.53 L425.56 83.51 L426.41 83.50 L427.22 83.50 L428.00 83.50 L428.72 83.51 L429.40 83.54 L430.04 83.58 L430.68 83.61 L431.33 83.66 L432.00 83.70 L432.75 83.75 L433.57 83.80 L434.40 83.86 L435.17 83.92 L435.83 83.97 L436.30 84.00" fill="none" stroke="#3e3e3e" stroke-width="0.9" stroke-linejoin="round" stroke-linecap="round" />
<rect x="367.6" y="48.6" width="67.6" height="10.4" fill="#fefefe" />
<text x="368.8" y="56.9" font-size="9.4" fill="#111" stroke="#111" stroke-width="0.28" textLength="65.6" lengthAdjust="spacingAndGlyphs" >3μg/ml collagen</text>
<rect x="387.4" y="65.6" width="16" height="6.2" fill="#fefefe" opacity="0.8"/>
<g transform="rotate(-3 387.2 71.6)">
<text x="387.2" y="71.6" font-size="5.8" font-style="italic" fill="#111" stroke="#111" stroke-width="0.15" textLength="16.6" lengthAdjust="spacingAndGlyphs" >Jam-A</text>
<text x="403.8" y="68.2" font-size="6.8" font-style="italic" fill="#111" stroke="#111" stroke-width="0.15" textLength="14.2" lengthAdjust="spacingAndGlyphs" >gt/gt</text>
</g>
<polygon points="396.60,87.00 394.65,81.20 398.55,81.20" fill="#000" />
<polygon points="412.10,88.40 414.05,94.20 410.15,94.20" fill="#000" />
<rect x="409.4" y="95.2" width="17" height="6" fill="#fefefe" opacity="0.8"/>
<g transform="rotate(-3 408.8 100.8)">
<text x="408.8" y="100.8" font-size="6.0" font-style="italic" fill="#111" stroke="#111" stroke-width="0.15" textLength="17.5" lengthAdjust="spacingAndGlyphs" >Jam-A</text>
<text x="426.3" y="97.8" font-size="7.2" font-style="italic" fill="#111" stroke="#111" stroke-width="0.15" textLength="15.6" lengthAdjust="spacingAndGlyphs" >wt/wt</text>
</g>
<line x1="32.4" y1="172.4" x2="32.4" y2="224.4" stroke="#222" stroke-width="1.1" />
<line x1="31.9" y1="223.9" x2="157" y2="223.9" stroke="#222" stroke-width="1.3" />
<line x1="30.8" y1="223.9" x2="32.4" y2="223.9" stroke="#333" stroke-width="0.7" />
<text x="30.2" y="224.8" font-size="2.6" text-anchor="end" font-weight="bold" fill="#333" >0</text>
<line x1="30.8" y1="213.62" x2="32.4" y2="213.62" stroke="#333" stroke-width="0.7" />
<text x="30.2" y="214.52" font-size="2.6" text-anchor="end" font-weight="bold" fill="#333" >20</text>
<line x1="30.8" y1="203.34" x2="32.4" y2="203.34" stroke="#333" stroke-width="0.7" />
<text x="30.2" y="204.24" font-size="2.6" text-anchor="end" font-weight="bold" fill="#333" >40</text>
<line x1="30.8" y1="193.06" x2="32.4" y2="193.06" stroke="#333" stroke-width="0.7" />
<text x="30.2" y="193.96" font-size="2.6" text-anchor="end" font-weight="bold" fill="#333" >60</text>
<line x1="30.8" y1="182.78" x2="32.4" y2="182.78" stroke="#333" stroke-width="0.7" />
<text x="30.2" y="183.68" font-size="2.6" text-anchor="end" font-weight="bold" fill="#333" >80</text>
<line x1="30.8" y1="172.5" x2="32.4" y2="172.5" stroke="#333" stroke-width="0.7" />
<text x="30.2" y="173.4" font-size="2.6" text-anchor="end" font-weight="bold" fill="#333" >100</text>
<line x1="32.5" y1="224" x2="32.5" y2="225.6" stroke="#333" stroke-width="0.7" />
<text x="30.9" y="228.6" font-size="2.6" font-weight="bold" fill="#333" >10</text>
<text x="33.9" y="227.4" font-size="2.0" font-weight="bold" fill="#333" >0</text>
<line x1="63.8" y1="224" x2="63.8" y2="225.6" stroke="#333" stroke-width="0.7" />
<text x="62.2" y="228.6" font-size="2.6" font-weight="bold" fill="#333" >10</text>
<text x="65.2" y="227.4" font-size="2.0" font-weight="bold" fill="#333" >1</text>
<line x1="94" y1="224" x2="94" y2="225.6" stroke="#333" stroke-width="0.7" />
<text x="92.4" y="228.6" font-size="2.6" font-weight="bold" fill="#333" >10</text>
<text x="95.4" y="227.4" font-size="2.0" font-weight="bold" fill="#333" >2</text>
<line x1="124.6" y1="224" x2="124.6" y2="225.6" stroke="#333" stroke-width="0.7" />
<text x="123.0" y="228.6" font-size="2.6" font-weight="bold" fill="#333" >10</text>
<text x="126.0" y="227.4" font-size="2.0" font-weight="bold" fill="#333" >3</text>
<line x1="156" y1="224" x2="156" y2="225.6" stroke="#333" stroke-width="0.7" />
<text x="154.4" y="228.6" font-size="2.6" font-weight="bold" fill="#333" >10</text>
<text x="157.4" y="227.4" font-size="2.0" font-weight="bold" fill="#333" >4</text>
<text x="90.8" y="230.8" font-size="2.2" font-weight="bold" fill="#444" >FL2-H</text>
<text x="24.4" y="215" font-size="8.9" fill="#111" stroke="#111" stroke-width="0.22" textLength="28.1" lengthAdjust="spacingAndGlyphs" transform="rotate(-90 24.4 215)" >Counts</text>
<path d="M32.60 215.92 L33.13 215.05 L33.90 213.05 L34.77 214.52 L35.60 213.15 L36.39 212.85 L37.19 209.83 L38.00 209.51 L38.80 208.20 L39.60 209.43 L40.41 207.43 L41.21 206.42 L42.00 206.60 L42.76 207.35 L43.51 206.65 L44.25 204.78 L45.00 204.09 L45.76 205.69 L46.54 204.40 L47.29 204.39 L48.00 202.53 L48.65 202.23 L49.26 203.70 L49.84 202.94 L50.40 202.09 L50.93 204.56 L51.42 204.12 L51.91 205.02 L52.40 203.72 L52.90 206.40 L53.40 205.15 L53.90 208.08 L54.40 207.88 L54.90 208.45 L55.40 209.91 L55.90 211.80 L56.40 211.00 L56.90 211.55 L57.40 213.51 L57.90 213.66 L58.40 214.18 L58.89 215.13 L59.38 215.61 L59.87 216.73 L60.40 217.71 L60.95 218.35 L61.52 220.15 L62.13 219.51 L62.80 220.60 L63.52 220.28 L64.30 221.20 L65.12 220.78 L66.00 221.75 L66.90 221.43 L67.83 223.52 L68.84 223.21 L70.00 222.39 L71.50 223.19 L73.25 224.38 L74.88 222.20 L76.00 224.03" fill="none" stroke="#3c3c3c" stroke-width="0.9" stroke-linejoin="round" stroke-linecap="round" />
<path d="M32.60 216.42 L33.13 216.05 L33.90 216.17 L34.77 214.16 L35.60 213.62 L36.39 213.29 L37.19 213.24 L38.00 210.77 L38.80 211.26 L39.59 210.19 L40.38 209.28 L41.17 207.99 L42.00 207.20 L42.88 205.87 L43.80 205.55 L44.72 204.92 L45.60 206.23 L46.45 204.54 L47.27 203.90 L48.07 203.36 L48.80 205.09 L49.46 205.01 L50.06 204.41 L50.63 203.43 L51.20 203.53 L51.76 204.06 L52.31 205.06 L52.85 204.95 L53.40 206.46 L53.95 206.84 L54.51 209.63 L55.06 210.66 L55.60 210.52 L56.11 210.65 L56.60 213.44 L57.09 212.62 L57.60 213.63 L58.13 213.58 L58.67 215.44 L59.23 216.53 L59.80 217.41 L60.38 217.39 L60.96 218.91 L61.57 218.30 L62.20 219.59 L62.84 219.67 L63.50 220.95 L64.21 220.44 L65.00 220.76 L65.85 221.82 L66.74 221.91 L67.76 223.05 L69.00 223.08 L70.70 223.76 L72.75 223.57 L74.67 223.74 L76.00 224.19" fill="none" stroke="#6e6e6e" stroke-width="0.8" stroke-linejoin="round" stroke-linecap="round" />
<path d="M50.20 203.40 L50.30 198.80 L50.50 203.60" fill="none" stroke="#555" stroke-width="0.7" stroke-linejoin="round" stroke-linecap="round" />
<path d="M32.60 220.54 L32.97 220.53 L33.47 220.87 L34.08 220.47 L34.73 220.79 L35.38 220.80 L36.00 220.57 L36.59 221.06 L37.19 221.21 L37.80 221.21 L38.41 221.41 L39.01 221.60 L39.60 221.42 L40.17 221.77 L40.73 221.94 L41.28 222.28 L41.83 222.44 L42.40 222.62 L43.00 222.64 L43.60 222.92 L44.18 222.94 L44.77 223.05 L45.42 222.91 L46.15 222.89 L47.00 223.02 L48.07 223.19 L49.37 223.11 L50.75 223.51 L52.07 223.39 L53.20 223.45 L54.00 223.46" fill="none" stroke="#111" stroke-width="1.5" stroke-linejoin="round" stroke-linecap="round" />
<path d="M70.00 223.46 L70.36 223.26 L70.85 222.78 L71.43 223.46 L72.08 223.35 L72.74 223.05 L73.39 222.98 L74.00 222.94 L74.58 222.23 L75.16 222.63 L75.75 221.96 L76.33 221.54 L76.90 221.43 L77.46 221.54 L78.00 220.73 L78.52 220.86 L79.03 220.70 L79.53 219.87 L80.02 219.34 L80.49 218.98 L80.95 218.68 L81.40 218.24 L81.83 217.56 L82.25 217.01 L82.65 215.89 L83.05 215.33 L83.43 214.76 L83.82 214.52 L84.20 213.42 L84.59 212.92 L84.97 211.65 L85.35 210.89 L85.72 210.25 L86.09 209.79 L86.45 208.98 L86.80 208.16 L87.14 207.01 L87.46 206.41 L87.78 205.56 L88.09 204.76 L88.40 203.64 L88.70 203.54 L89.00 202.13 L89.30 202.04 L89.59 201.21 L89.88 199.58 L90.17 199.20 L90.45 198.75 L90.73 198.14 L91.00 196.95 L91.27 196.09 L91.53 195.34 L91.80 195.32 L92.05 194.00 L92.31 193.73 L92.56 192.77 L92.80 192.62 L93.04 192.56 L93.28 191.39 L93.52 191.63 L93.75 191.03 L93.98 191.13 L94.19 190.82 L94.40 190.36 L94.59 191.05 L94.77 190.89 L94.94 190.78 L95.11 191.14 L95.27 192.02 L95.43 192.46 L95.60 192.82 L95.77 193.21 L95.94 193.99 L96.10 194.61 L96.27 195.76 L96.44 195.71 L96.62 197.11 L96.80 197.91 L96.99 197.99 L97.18 199.46 L97.38 200.04 L97.58 200.99 L97.78 201.23 L97.99 202.10 L98.20 202.90 L98.42 204.24 L98.64 204.68 L98.86 205.29 L99.09 206.17 L99.32 206.84 L99.56 207.42 L99.80 208.24 L100.04 209.66 L100.29 209.91 L100.55 211.23 L100.80 211.33 L101.07 212.05 L101.33 212.95 L101.60 213.32 L101.87 214.12 L102.15 215.26 L102.42 215.78 L102.70 216.29 L102.99 216.68 L103.29 217.46 L103.60 218.00 L103.92 218.14 L104.25 218.76 L104.59 218.61 L104.94 219.66 L105.29 219.82 L105.64 220.47 L106.00 220.73 L106.35 220.74 L106.70 220.82 L107.06 221.89 L107.42 221.43 L107.79 221.97 L108.18 222.07 L108.60 222.22 L109.02 222.79 L109.44 223.15 L109.86 222.63 L110.32 223.09 L110.82 222.87 L111.37 223.18 L112.00 223.10 L112.77 222.96 L113.70 223.00 L114.70 223.08 L115.71 223.73 L116.65 223.37 L117.43 223.14 L118.00 223.77" fill="none" stroke="#161616" stroke-width="1.0" stroke-linejoin="round" stroke-linecap="round" />
<path d="M78.00 223.65 L78.37 223.21 L78.89 222.94 L79.51 222.90 L80.17 222.74 L80.84 222.80 L81.47 222.49 L82.00 222.42 L82.45 222.22 L82.86 222.21 L83.23 222.17 L83.59 221.78 L83.93 221.24 L84.26 220.90 L84.60 220.62 L84.94 220.13 L85.27 219.71 L85.59 219.09 L85.91 218.79 L86.21 218.79 L86.51 217.69 L86.80 217.40 L87.08 216.90 L87.35 216.44 L87.61 215.33 L87.86 214.68 L88.11 213.94 L88.36 213.30 L88.60 212.56 L88.84 212.12 L89.07 211.21 L89.30 210.36 L89.52 208.88 L89.75 207.97 L89.97 207.51 L90.20 206.68 L90.43 205.39 L90.66 204.45 L90.90 202.99 L91.13 202.20 L91.36 201.49 L91.58 200.33 L91.80 199.25 L92.01 198.21 L92.22 196.56 L92.42 195.31 L92.62 194.18 L92.82 193.28 L93.01 192.24 L93.20 191.31 L93.38 190.05 L93.56 188.90 L93.73 187.90 L93.90 186.61 L94.06 185.63 L94.23 184.26 L94.40 183.80 L94.57 182.39 L94.74 181.77 L94.91 180.49 L95.09 179.23 L95.26 178.26 L95.43 177.73 L95.60 177.70 L95.77 177.80 L95.94 177.74 L96.11 178.30 L96.29 179.38 L96.46 180.28 L96.63 181.04 L96.80 181.81 L96.97 182.97 L97.14 183.56 L97.30 184.83 L97.47 186.06 L97.64 187.53 L97.82 188.43 L98.00 189.67 L98.19 190.43 L98.38 191.30 L98.58 192.34 L98.78 193.88 L98.98 194.72 L99.19 195.46 L99.40 196.27 L99.62 197.61 L99.84 198.74 L100.07 199.57 L100.30 200.45 L100.54 201.70 L100.77 202.81 L101.00 203.21 L101.23 203.90 L101.45 204.88 L101.66 205.67 L101.89 206.57 L102.11 206.94 L102.35 208.07 L102.60 208.77 L102.86 209.37 L103.14 209.95 L103.42 211.27 L103.71 211.60 L104.00 212.73 L104.30 213.08 L104.60 213.81 L104.90 214.90 L105.20 215.28 L105.51 216.43 L105.82 216.78 L106.14 217.21 L106.46 217.84 L106.80 218.54 L107.15 219.24 L107.50 219.93 L107.85 219.83 L108.22 220.44 L108.60 220.71 L108.99 221.60 L109.40 221.35 L109.81 221.58 L110.21 221.84 L110.61 222.29 L111.04 222.83 L111.51 222.99 L112.02 223.03 L112.60 223.35 L113.30 223.42 L114.14 223.08 L115.04 223.04 L115.95 223.61 L116.79 223.52 L117.49 223.04 L118.00 223.52" fill="none" stroke="#4a4a4a" stroke-width="0.85" stroke-linejoin="round" stroke-linecap="round" />
<text x="41.25" y="190.6" font-size="8.9" fill="#111" stroke="#111" stroke-width="0.22" textLength="28.5" lengthAdjust="spacingAndGlyphs" >Control</text>
<polygon points="45.90,203.80 43.86,196.97 47.46,196.84" fill="#000" />
<polygon points="99.40,185.00 106.00,182.90 106.00,187.10" fill="#000" />
<g transform="rotate(-2.5 106.9 188.2)">
<text x="106.9" y="188.2" font-size="9.1" font-style="italic" fill="#111" stroke="#111" stroke-width="0.28" textLength="26.2" lengthAdjust="spacingAndGlyphs" >Jam-A</text>
<text x="133.7" y="183.6" font-size="9.0" font-style="italic" fill="#111" stroke="#111" stroke-width="0.28" textLength="17.5" lengthAdjust="spacingAndGlyphs" >gt/gt</text>
</g>
<polygon points="100.00,205.90 106.60,203.80 106.60,208.00" fill="#000" />
<g transform="rotate(-2.5 108.1 208.8)">
<text x="108.1" y="208.8" font-size="9.0" font-style="italic" fill="#111" stroke="#111" stroke-width="0.28" textLength="25.9" lengthAdjust="spacingAndGlyphs" >Jam-A</text>
<text x="134.4" y="204.8" font-size="8.8" font-style="italic" fill="#111" stroke="#111" stroke-width="0.22" textLength="20" lengthAdjust="spacingAndGlyphs" >wt/wt</text>
</g>
<text x="20.2" y="308.1" font-size="7.7" fill="#111" stroke="#111" stroke-width="0.22" textLength="64.4" lengthAdjust="spacingAndGlyphs" transform="rotate(-90 20.2 308.1)" >Mean fluorescence</text>
<text x="29" y="306.3" font-size="7.7" fill="#111" stroke="#111" stroke-width="0.22" textLength="50" lengthAdjust="spacingAndGlyphs" transform="rotate(-90 29 306.3)" >intensity (A.U.)</text>
<text x="40.8" y="302.4" font-size="6.2" text-anchor="end" fill="#111" stroke="#111" stroke-width="0.15" textLength="2.85" lengthAdjust="spacingAndGlyphs" >0</text>
<line x1="41.6" y1="300.2" x2="43.0" y2="300.2" stroke="#555" stroke-width="0.6" />
<text x="40.8" y="296.0" font-size="6.2" text-anchor="end" fill="#111" stroke="#111" stroke-width="0.15" textLength="5.7" lengthAdjust="spacingAndGlyphs" >20</text>
<line x1="41.6" y1="293.8" x2="43.0" y2="293.8" stroke="#555" stroke-width="0.6" />
<text x="40.8" y="289.6" font-size="6.2" text-anchor="end" fill="#111" stroke="#111" stroke-width="0.15" textLength="5.7" lengthAdjust="spacingAndGlyphs" >40</text>
<line x1="41.6" y1="287.4" x2="43.0" y2="287.4" stroke="#555" stroke-width="0.6" />
<text x="40.8" y="283.2" font-size="6.2" text-anchor="end" fill="#111" stroke="#111" stroke-width="0.15" textLength="5.7" lengthAdjust="spacingAndGlyphs" >60</text>
<line x1="41.6" y1="281.0" x2="43.0" y2="281.0" stroke="#555" stroke-width="0.6" />
<text x="40.8" y="276.8" font-size="6.2" text-anchor="end" fill="#111" stroke="#111" stroke-width="0.15" textLength="5.7" lengthAdjust="spacingAndGlyphs" >80</text>
<line x1="41.6" y1="274.6" x2="43.0" y2="274.6" stroke="#555" stroke-width="0.6" />
<text x="40.8" y="270.4" font-size="6.2" text-anchor="end" fill="#111" stroke="#111" stroke-width="0.15" textLength="8.55" lengthAdjust="spacingAndGlyphs" >100</text>
<line x1="41.6" y1="268.2" x2="43.0" y2="268.2" stroke="#555" stroke-width="0.6" />
<text x="40.8" y="264.0" font-size="6.2" text-anchor="end" fill="#111" stroke="#111" stroke-width="0.15" textLength="8.55" lengthAdjust="spacingAndGlyphs" >120</text>
<line x1="41.6" y1="261.8" x2="43.0" y2="261.8" stroke="#555" stroke-width="0.6" />
<text x="40.8" y="257.6" font-size="6.2" text-anchor="end" fill="#111" stroke="#111" stroke-width="0.15" textLength="8.55" lengthAdjust="spacingAndGlyphs" >140</text>
<line x1="41.6" y1="255.4" x2="43.0" y2="255.4" stroke="#555" stroke-width="0.6" />
<line x1="42.9" y1="255" x2="42.9" y2="315" stroke="#a4a4a4" stroke-width="0.8" />
<line x1="42.9" y1="300.5" x2="157.5" y2="300.5" stroke="#9a9a9a" stroke-width="0.9" />
<line x1="73.1" y1="300.6" x2="73.1" y2="308.4" stroke="#c4c4c4" stroke-width="0.7" />
<line x1="101.2" y1="300.6" x2="101.2" y2="315.6" stroke="#b4b4b4" stroke-width="0.8" />
<rect x="51.9" y="298.8" width="11.9" height="1.9" fill="#0a0a0a" />
<rect x="80.6" y="264" width="11.7" height="36.7" fill="#000" />
<line x1="86.3" y1="264" x2="86.3" y2="259.4" stroke="#8a8a8a" stroke-width="0.6" />
<rect x="109.4" y="299.2" width="11.2" height="1.8" fill="#0a0a0a" />
<rect x="138.1" y="258.5" width="11.7" height="42.2" fill="#000" />
<line x1="144" y1="258.5" x2="144" y2="257.2" stroke="#8a8a8a" stroke-width="0.6" />
<text x="110" y="251.9" font-size="7.2" fill="#111" stroke="#111" stroke-width="0.15" textLength="10.3" lengthAdjust="spacingAndGlyphs" >NS</text>
<line x1="85.6" y1="253.2" x2="143.8" y2="253.2" stroke="#3c3c3c" stroke-width="1.0" />
<text x="46.3" y="308.2" font-size="7.8" fill="#111" stroke="#111" stroke-width="0.22" textLength="25" lengthAdjust="spacingAndGlyphs" >Control</text>
<text x="79" y="308.7" font-size="7.8" fill="#111" stroke="#111" stroke-width="0.22" textLength="12.9" lengthAdjust="spacingAndGlyphs" >αIIb</text>
<text x="104" y="308.2" font-size="7.8" fill="#111" stroke="#111" stroke-width="0.22" textLength="25.4" lengthAdjust="spacingAndGlyphs" >Control</text>
<text x="137.8" y="308.7" font-size="7.8" fill="#111" stroke="#111" stroke-width="0.22" textLength="12.9" lengthAdjust="spacingAndGlyphs" >αIIb</text>
<g transform="rotate(-3.5 50.6 322)">
<text x="50.6" y="322" font-size="7.2" font-style="italic" fill="#111" stroke="#111" stroke-width="0.15" textLength="20.4" lengthAdjust="spacingAndGlyphs" >Jam-A</text>
<text x="70.6" y="319.0" font-size="7.4" font-style="italic" fill="#111" stroke="#111" stroke-width="0.15" textLength="16.9" lengthAdjust="spacingAndGlyphs" >wt/wt</text>
</g>
<g transform="rotate(-6 107.5 321)">
<text x="107.5" y="321" font-size="7.6" font-style="italic" fill="#111" stroke="#111" stroke-width="0.22" textLength="21.9" lengthAdjust="spacingAndGlyphs" >Jam-A</text>
<text x="129.8" y="318.0" font-size="7.4" font-style="italic" fill="#111" stroke="#111" stroke-width="0.15" textLength="14.4" lengthAdjust="spacingAndGlyphs" >gt/gt</text>
</g>
<line x1="43.1" y1="336.4" x2="163.6" y2="336.4" stroke="#222" stroke-width="1.3" />
<text x="26.7" y="355.1" font-size="12.6" fill="#111" stroke="#111" stroke-width="0.28" textLength="142.7" lengthAdjust="spacingAndGlyphs" >Surface expression of αIIb</text>
<line x1="228.2" y1="148.1" x2="228.2" y2="207.4" stroke="#1a1a1a" stroke-width="1.4" />
<line x1="227.5" y1="206.9" x2="330" y2="206.9" stroke="#1a1a1a" stroke-width="1.4" />
<line x1="226.2" y1="206.9" x2="228.2" y2="206.9" stroke="#222" stroke-width="0.8" />
<text x="225.4" y="207.8" font-size="2.6" text-anchor="end" font-weight="bold" fill="#333" >0</text>
<line x1="226.2" y1="195.15" x2="228.2" y2="195.15" stroke="#222" stroke-width="0.8" />
<text x="225.4" y="196.05" font-size="2.6" text-anchor="end" font-weight="bold" fill="#333" >2</text>
<line x1="226.2" y1="183.4" x2="228.2" y2="183.4" stroke="#222" stroke-width="0.8" />
<text x="225.4" y="184.3" font-size="2.6" text-anchor="end" font-weight="bold" fill="#333" >4</text>
<line x1="226.2" y1="171.65" x2="228.2" y2="171.65" stroke="#222" stroke-width="0.8" />
<text x="225.4" y="172.55" font-size="2.6" text-anchor="end" font-weight="bold" fill="#333" >6</text>
<line x1="226.2" y1="159.9" x2="228.2" y2="159.9" stroke="#222" stroke-width="0.8" />
<text x="225.4" y="160.8" font-size="2.6" text-anchor="end" font-weight="bold" fill="#333" >8</text>
<line x1="226.2" y1="148.15" x2="228.2" y2="148.15" stroke="#222" stroke-width="0.8" />
<text x="225.4" y="149.05" font-size="2.6" text-anchor="end" font-weight="bold" fill="#333" >10</text>
<line x1="227.0" y1="206.9" x2="228.2" y2="206.9" stroke="#333" stroke-width="0.4" />
<line x1="227.0" y1="204.55" x2="228.2" y2="204.55" stroke="#333" stroke-width="0.4" />
<line x1="227.0" y1="202.2" x2="228.2" y2="202.2" stroke="#333" stroke-width="0.4" />
<line x1="227.0" y1="199.85" x2="228.2" y2="199.85" stroke="#333" stroke-width="0.4" />
<line x1="227.0" y1="197.5" x2="228.2" y2="197.5" stroke="#333" stroke-width="0.4" />
<line x1="227.0" y1="195.15" x2="228.2" y2="195.15" stroke="#333" stroke-width="0.4" />
<line x1="227.0" y1="192.8" x2="228.2" y2="192.8" stroke="#333" stroke-width="0.4" />
<line x1="227.0" y1="190.45" x2="228.2" y2="190.45" stroke="#333" stroke-width="0.4" />
<line x1="227.0" y1="188.1" x2="228.2" y2="188.1" stroke="#333" stroke-width="0.4" />
<line x1="227.0" y1="185.75" x2="228.2" y2="185.75" stroke="#333" stroke-width="0.4" />
<line x1="227.0" y1="183.4" x2="228.2" y2="183.4" stroke="#333" stroke-width="0.4" />
<line x1="227.0" y1="181.05" x2="228.2" y2="181.05" stroke="#333" stroke-width="0.4" />
<line x1="227.0" y1="178.7" x2="228.2" y2="178.7" stroke="#333" stroke-width="0.4" />
<line x1="227.0" y1="176.35" x2="228.2" y2="176.35" stroke="#333" stroke-width="0.4" />
<line x1="227.0" y1="174.0" x2="228.2" y2="174.0" stroke="#333" stroke-width="0.4" />
<line x1="227.0" y1="171.65" x2="228.2" y2="171.65" stroke="#333" stroke-width="0.4" />
<line x1="227.0" y1="169.3" x2="228.2" y2="169.3" stroke="#333" stroke-width="0.4" />
<line x1="227.0" y1="166.95" x2="228.2" y2="166.95" stroke="#333" stroke-width="0.4" />
<line x1="227.0" y1="164.6" x2="228.2" y2="164.6" stroke="#333" stroke-width="0.4" />
<line x1="227.0" y1="162.25" x2="228.2" y2="162.25" stroke="#333" stroke-width="0.4" />
<line x1="227.0" y1="159.9" x2="228.2" y2="159.9" stroke="#333" stroke-width="0.4" />
<line x1="227.0" y1="157.55" x2="228.2" y2="157.55" stroke="#333" stroke-width="0.4" />
<line x1="227.0" y1="155.2" x2="228.2" y2="155.2" stroke="#333" stroke-width="0.4" />
<line x1="227.0" y1="152.85" x2="228.2" y2="152.85" stroke="#333" stroke-width="0.4" />
<line x1="227.0" y1="150.5" x2="228.2" y2="150.5" stroke="#333" stroke-width="0.4" />
<line x1="227.0" y1="148.15" x2="228.2" y2="148.15" stroke="#333" stroke-width="0.4" />
<line x1="227.6" y1="207" x2="227.6" y2="208.6" stroke="#333" stroke-width="0.7" />
<text x="225.8" y="211.6" font-size="2.6" font-weight="bold" fill="#333" >10</text>
<text x="228.8" y="210.4" font-size="2.0" font-weight="bold" fill="#333" >0</text>
<line x1="264.4" y1="207" x2="264.4" y2="208.6" stroke="#333" stroke-width="0.7" />
<text x="262.6" y="211.6" font-size="2.6" font-weight="bold" fill="#333" >10</text>
<text x="265.6" y="210.4" font-size="2.0" font-weight="bold" fill="#333" >1</text>
<line x1="299.4" y1="207" x2="299.4" y2="208.6" stroke="#333" stroke-width="0.7" />
<text x="297.6" y="211.6" font-size="2.6" font-weight="bold" fill="#333" >10</text>
<text x="300.6" y="210.4" font-size="2.0" font-weight="bold" fill="#333" >2</text>
<text x="297" y="214" font-size="2.2" font-weight="bold" fill="#444" >FL1-H</text>
<text x="218.8" y="191.9" font-size="9.2" fill="#111" stroke="#111" stroke-width="0.28" textLength="22.9" lengthAdjust="spacingAndGlyphs" transform="rotate(-90 218.8 191.9)" >Count</text>
<path d="M228.60 173.83 L228.69 174.23 L228.81 174.74 L228.95 175.18 L229.10 175.67 L229.27 176.79 L229.44 177.59 L229.60 179.04 L229.76 178.40 L229.93 180.08 L230.11 179.50 L230.28 180.16 L230.46 181.24 L230.63 181.66 L230.80 181.51 L230.96 181.32 L231.11 182.21 L231.26 182.33 L231.41 183.36 L231.56 182.63 L231.72 183.20 L231.90 184.36 L232.09 183.63 L232.30 184.72 L232.51 185.88 L232.73 186.45 L232.95 186.08 L233.18 186.72 L233.40 187.39 L233.62 189.22 L233.84 188.95 L234.07 190.30 L234.30 191.17 L234.53 191.04 L234.76 191.58 L235.00 193.14 L235.24 193.24 L235.49 193.30 L235.75 194.47 L236.00 194.43 L236.27 194.89 L236.53 195.01 L236.80 196.56 L237.07 197.28 L237.35 197.37 L237.63 198.28 L237.92 197.46 L238.21 198.20 L238.50 198.96 L238.80 200.04 L239.10 200.41 L239.40 199.96 L239.70 200.10 L240.00 200.65 L240.32 201.04 L240.65 201.93 L241.00 201.16 L241.36 202.29 L241.73 202.46 L242.11 202.82 L242.51 202.98 L242.92 202.97 L243.35 202.78 L243.80 202.95 L244.31 203.17 L244.90 203.91 L245.52 203.05 L246.13 203.33 L246.69 204.21 L247.16 203.58 L247.50 203.39" fill="none" stroke="#2e2e2e" stroke-width="1.5" stroke-linejoin="round" stroke-linecap="round" />
<path d="M228.60 167.16 L228.67 168.64 L228.76 168.97 L228.87 171.04 L228.99 171.83 L229.12 173.02 L229.26 172.69 L229.40 173.25 L229.55 174.10 L229.71 175.65 L229.88 176.85 L230.05 177.18 L230.23 177.59 L230.41 178.70 L230.60 179.82 L230.79 180.64 L230.98 181.48 L231.18 182.35 L231.38 182.69 L231.58 182.38 L231.79 184.35 L232.00 184.03 L232.22 185.19 L232.44 185.50 L232.66 186.81 L232.89 186.50 L233.12 187.24 L233.36 187.89 L233.60 188.38 L233.84 190.36 L234.09 190.48 L234.35 190.70 L234.60 191.50 L234.87 193.23 L235.13 193.00 L235.40 193.12 L235.67 194.75 L235.95 195.04 L236.23 196.21 L236.52 195.15 L236.81 196.35 L237.10 197.48 L237.40 198.01 L237.70 198.63 L238.01 197.52 L238.32 198.42 L238.63 198.54 L238.95 199.08 L239.27 200.88 L239.60 200.55 L239.93 201.52 L240.25 200.84 L240.58 202.03 L240.92 201.56 L241.26 201.48 L241.62 202.67 L242.00 203.20 L242.40 201.91 L242.81 202.99 L243.24 203.22 L243.68 202.66 L244.13 203.09 L244.57 202.82 L245.00 203.07 L245.45 203.28 L245.94 204.01 L246.44 204.20 L246.92 203.48 L247.36 203.21 L247.73 203.84 L248.00 204.52" fill="none" stroke="#707070" stroke-width="1.1" stroke-linejoin="round" stroke-linecap="round" />
<path d="M228.60 205.12 L228.86 205.20 L229.20 205.05 L229.60 205.52 L230.05 205.23 L230.53 204.73 L231.03 204.71 L231.52 204.93 L232.00 205.05 L232.47 205.12 L232.96 204.64 L233.46 204.72 L233.96 205.23 L234.47 205.00 L234.99 204.93 L235.50 204.99 L236.00 205.61 L236.50 205.08 L237.00 205.36 L237.50 205.23 L238.00 205.35 L238.50 205.81 L239.00 205.98 L239.50 205.45 L240.00 205.33 L240.50 205.81 L241.00 205.34 L241.50 205.15 L242.00 205.94 L242.50 205.48 L243.00 205.79 L243.50 205.37 L244.00 205.74 L244.53 205.29 L245.09 204.92 L245.68 204.67 L246.25 205.03 L246.79 204.99 L247.28 205.13 L247.69 204.30 L248.00 204.71" fill="none" stroke="#222" stroke-width="1.0" stroke-linejoin="round" stroke-linecap="round" />
<path d="M247.50 203.90 L247.78 203.94 L248.16 203.58 L248.61 203.59 L249.10 203.65 L249.57 203.79 L250.00 202.89 L250.39 202.87 L250.77 202.75 L251.14 202.45 L251.51 201.37 L251.86 200.81 L252.20 200.95 L252.53 200.45 L252.84 199.49 L253.15 198.56 L253.44 198.64 L253.73 197.57 L254.00 197.32 L254.26 196.42 L254.50 195.87 L254.74 194.62 L254.96 194.37 L255.18 193.15 L255.40 192.52 L255.61 192.10 L255.81 191.30 L256.01 189.98 L256.21 189.18 L256.40 188.45 L256.60 187.61 L256.80 186.52 L257.00 185.27 L257.20 184.29 L257.40 183.54 L257.60 182.52 L257.80 180.63 L258.00 179.81 L258.21 178.68 L258.41 176.78 L258.61 176.06 L258.81 174.10 L259.00 173.08 L259.18 171.57 L259.36 170.10 L259.54 168.28 L259.70 166.82 L259.86 165.46 L260.00 163.94 L260.12 162.72 L260.22 161.07 L260.31 159.64 L260.40 158.06 L260.49 157.60 L260.60 156.99 L260.72 156.81 L260.84 157.69 L260.98 158.47 L261.11 159.15 L261.25 159.89 L261.40 160.98 L261.55 161.46 L261.71 162.30 L261.87 163.38 L262.04 163.97 L262.22 165.11 L262.40 166.01 L262.59 166.48 L262.79 167.81 L262.99 168.23 L263.19 169.59 L263.40 170.45 L263.60 171.01 L263.80 171.38 L264.01 172.44 L264.21 173.01 L264.41 174.12 L264.61 174.10 L264.80 175.29 L264.97 175.95 L265.12 176.23 L265.26 176.76 L265.41 176.75 L265.59 177.93 L265.80 178.19 L266.05 179.35 L266.33 180.22 L266.64 180.58 L266.96 182.05 L267.28 183.10 L267.60 183.25 L267.92 184.24 L268.24 185.26 L268.57 185.45 L268.90 186.68 L269.25 186.80 L269.60 187.85 L269.96 187.90 L270.34 188.74 L270.72 189.61 L271.11 189.58 L271.50 190.19 L271.90 191.00 L272.30 191.53 L272.71 192.03 L273.13 192.90 L273.55 193.64 L273.98 195.02 L274.40 195.54 L274.82 196.44 L275.24 196.58 L275.67 197.79 L276.10 197.96 L276.54 198.97 L277.00 199.71 L277.47 200.11 L277.95 201.13 L278.44 201.46 L278.94 202.03 L279.46 202.81 L280.00 202.68 L280.56 203.87 L281.13 204.03 L281.71 204.27 L282.32 204.98 L282.95 204.90 L283.60 205.79 L284.27 205.72 L284.95 205.75 L285.65 206.25 L286.39 206.13 L287.16 206.04 L288.00 206.59 L288.98 206.12 L290.10 206.79 L291.27 206.37 L292.39 206.69 L293.33 206.97 L294.00 206.67" fill="none" stroke="#3a3a3a" stroke-width="0.9" stroke-linejoin="round" stroke-linecap="round" />
<path d="M246.00 204.78 L246.27 204.37 L246.64 204.02 L247.08 204.04 L247.56 204.13 L248.06 204.58 L248.55 204.28 L249.00 204.21 L249.43 204.42 L249.86 203.33 L250.29 203.14 L250.71 203.28 L251.14 202.24 L251.57 201.84 L252.00 201.84 L252.43 201.16 L252.87 201.01 L253.31 200.41 L253.74 200.33 L254.17 199.85 L254.59 198.91 L255.00 198.84 L255.39 198.11 L255.78 197.15 L256.15 197.41 L256.52 196.02 L256.88 195.28 L257.24 194.58 L257.60 194.55 L257.95 194.18 L258.30 193.45 L258.64 192.39 L258.98 191.60 L259.32 190.69 L259.66 190.77 L260.00 190.07 L260.34 189.24 L260.69 188.96 L261.03 188.15 L261.37 188.12 L261.71 187.33 L262.06 186.25 L262.40 186.44 L262.75 184.99 L263.10 185.02 L263.46 184.40 L263.81 183.74 L264.16 183.10 L264.49 183.48 L264.80 182.26 L265.10 182.51 L265.38 182.63 L265.66 181.46 L265.92 181.27 L266.16 181.49 L266.39 181.18 L266.60 181.16 L266.78 181.19 L266.94 180.36 L267.07 180.41 L267.20 180.32 L267.32 180.02 L267.45 180.96 L267.60 180.91 L267.76 180.97 L267.92 180.38 L268.09 181.53 L268.26 181.70 L268.44 181.70 L268.62 182.33 L268.80 182.35 L268.99 182.46 L269.19 182.73 L269.39 183.30 L269.59 183.53 L269.79 184.31 L270.00 185.23 L270.20 185.61 L270.40 186.23 L270.59 186.54 L270.79 186.51 L270.99 187.29 L271.19 187.62 L271.39 188.47 L271.60 188.63 L271.82 188.78 L272.04 189.63 L272.26 190.42 L272.49 190.03 L272.72 191.18 L272.96 190.65 L273.20 191.34 L273.44 191.72 L273.69 192.67 L273.94 193.28 L274.19 193.45 L274.45 193.39 L274.72 194.40 L275.00 194.21 L275.29 194.55 L275.59 195.73 L275.89 195.89 L276.21 196.42 L276.53 196.86 L276.86 197.67 L277.20 197.57 L277.55 198.43 L277.90 198.74 L278.27 199.39 L278.64 199.39 L279.02 200.16 L279.40 200.44 L279.80 200.59 L280.20 200.91 L280.61 201.79 L281.03 201.61 L281.45 202.93 L281.89 202.48 L282.34 202.73 L282.80 203.17 L283.27 204.41 L283.76 204.09 L284.25 204.18 L284.76 204.35 L285.28 204.64 L285.83 205.60 L286.40 205.75 L286.99 206.00 L287.60 206.19 L288.23 205.58 L288.88 206.26 L289.55 206.10 L290.26 206.68 L291.00 206.75 L291.84 206.89 L292.79 206.03 L293.79 206.94 L294.77 207.02 L295.68 207.06 L296.45 206.15 L297.00 206.28" fill="none" stroke="#141414" stroke-width="1.0" stroke-linejoin="round" stroke-linecap="round" />
<text x="231" y="171.3" font-size="7.1" fill="#111" stroke="#111" stroke-width="0.15" textLength="22.8" lengthAdjust="spacingAndGlyphs" >Control</text>
<polygon points="233.90,182.60 235.86,174.79 239.38,176.70" fill="#000" />
<polygon points="265.60,168.90 274.40,166.65 274.40,171.15" fill="#000" />
<g transform="rotate(-1.5 275.6 171.3)">
<text x="275.6" y="171.3" font-size="9.4" font-style="italic" fill="#111" stroke="#111" stroke-width="0.28" textLength="25" lengthAdjust="spacingAndGlyphs" >Jam-A</text>
<text x="301.9" y="165.9" font-size="9.3" font-style="italic" fill="#111" stroke="#111" stroke-width="0.28" textLength="18.1" lengthAdjust="spacingAndGlyphs" >gt/gt</text>
</g>
<polygon points="273.70,189.80 282.20,187.60 282.20,192.00" fill="#000" />
<g transform="rotate(-1.5 284 191.7)">
<text x="284" y="191.7" font-size="9.4" font-style="italic" fill="#111" stroke="#111" stroke-width="0.28" textLength="25.7" lengthAdjust="spacingAndGlyphs" >Jam-A</text>
<text x="310.0" y="187.3" font-size="8.6" font-style="italic" fill="#111" stroke="#111" stroke-width="0.22" textLength="19.4" lengthAdjust="spacingAndGlyphs" >wt/wt</text>
</g>
<text x="205" y="306.9" font-size="10.6" fill="#111" stroke="#111" stroke-width="0.28" textLength="89.4" lengthAdjust="spacingAndGlyphs" transform="rotate(-90 205 306.9)" >Mean fluorescence</text>
<text x="217.4" y="304.4" font-size="10.6" fill="#111" stroke="#111" stroke-width="0.28" textLength="70" lengthAdjust="spacingAndGlyphs" transform="rotate(-90 217.4 304.4)" >intensity (A.U.)</text>
<text x="231.2" y="293.5" font-size="6.6" text-anchor="end" fill="#111" stroke="#111" stroke-width="0.15" textLength="3.1" lengthAdjust="spacingAndGlyphs" >0</text>
<line x1="232" y1="290.4" x2="233.6" y2="290.4" stroke="#777" stroke-width="0.6" />
<text x="231.2" y="286.62" font-size="6.6" text-anchor="end" fill="#111" stroke="#111" stroke-width="0.15" textLength="3.1" lengthAdjust="spacingAndGlyphs" >2</text>
<line x1="232" y1="283.52" x2="233.6" y2="283.52" stroke="#777" stroke-width="0.6" />
<text x="231.2" y="279.74" font-size="6.6" text-anchor="end" fill="#111" stroke="#111" stroke-width="0.15" textLength="3.1" lengthAdjust="spacingAndGlyphs" >4</text>
<line x1="232" y1="276.64" x2="233.6" y2="276.64" stroke="#777" stroke-width="0.6" />
<text x="231.2" y="272.86" font-size="6.6" text-anchor="end" fill="#111" stroke="#111" stroke-width="0.15" textLength="3.1" lengthAdjust="spacingAndGlyphs" >6</text>
<line x1="232" y1="269.76" x2="233.6" y2="269.76" stroke="#777" stroke-width="0.6" />
<text x="231.2" y="265.98" font-size="6.6" text-anchor="end" fill="#111" stroke="#111" stroke-width="0.15" textLength="3.1" lengthAdjust="spacingAndGlyphs" >8</text>
<line x1="232" y1="262.88" x2="233.6" y2="262.88" stroke="#777" stroke-width="0.6" />
<text x="231.2" y="259.1" font-size="6.6" text-anchor="end" fill="#111" stroke="#111" stroke-width="0.15" textLength="6.2" lengthAdjust="spacingAndGlyphs" >10</text>
<line x1="232" y1="256.0" x2="233.6" y2="256.0" stroke="#777" stroke-width="0.6" />
<text x="231.2" y="252.22" font-size="6.6" text-anchor="end" fill="#111" stroke="#111" stroke-width="0.15" textLength="6.2" lengthAdjust="spacingAndGlyphs" >12</text>
<line x1="232" y1="249.11999999999998" x2="233.6" y2="249.11999999999998" stroke="#777" stroke-width="0.6" />
<text x="231.2" y="245.34" font-size="6.6" text-anchor="end" fill="#111" stroke="#111" stroke-width="0.15" textLength="6.2" lengthAdjust="spacingAndGlyphs" >14</text>
<line x1="232" y1="242.23999999999998" x2="233.6" y2="242.23999999999998" stroke="#777" stroke-width="0.6" />
<line x1="233.2" y1="242.5" x2="233.2" y2="290.6" stroke="#a8a8a8" stroke-width="0.8" />
<line x1="232.6" y1="290.5" x2="344" y2="290.5" stroke="#9a9a9a" stroke-width="0.9" />
<line x1="263.1" y1="290.6" x2="263.1" y2="293" stroke="#b4b4b4" stroke-width="0.8" />
<line x1="291.3" y1="290.6" x2="291.3" y2="293" stroke="#b4b4b4" stroke-width="0.8" />
<line x1="321.3" y1="290.6" x2="321.3" y2="293" stroke="#b4b4b4" stroke-width="0.8" />
<rect x="242.5" y="286.4" width="11.9" height="4.3" fill="#000" />
<rect x="272.2" y="250" width="11.4" height="40.7" fill="#000" />
<line x1="277.6" y1="250" x2="277.6" y2="246.9" stroke="#777" stroke-width="0.6" />
<rect x="300.6" y="286.9" width="12.1" height="3.8" fill="#000" />
<rect x="330" y="258.1" width="11.9" height="32.6" fill="#000" />
<line x1="335.7" y1="258.1" x2="335.7" y2="255.6" stroke="#777" stroke-width="0.6" />
<text x="301.5" y="237.1" font-size="8.3" fill="#111" stroke="#111" stroke-width="0.22" textLength="11.6" lengthAdjust="spacingAndGlyphs" >NS</text>
<line x1="276" y1="240" x2="336.3" y2="240" stroke="#6e6e6e" stroke-width="1.3" />
<line x1="248.0" y1="293.3" x2="250.2" y2="293.3" stroke="#111" stroke-width="0.9" />
<line x1="306.4" y1="293.3" x2="308.6" y2="293.3" stroke="#111" stroke-width="0.9" />
<line x1="277.9" y1="293.7" x2="281.1" y2="293.7" stroke="#111" stroke-width="0.9" />
<line x1="279.5" y1="292.1" x2="279.5" y2="295.3" stroke="#111" stroke-width="0.9" />
<line x1="336.2" y1="293.7" x2="339.40000000000003" y2="293.7" stroke="#111" stroke-width="0.9" />
<line x1="337.8" y1="292.1" x2="337.8" y2="295.3" stroke="#111" stroke-width="0.9" />
<line x1="245" y1="296.7" x2="288.8" y2="296.7" stroke="#3c3c3c" stroke-width="1.1" />
<line x1="295" y1="296.9" x2="340.6" y2="296.9" stroke="#3c3c3c" stroke-width="1.1" />
<text x="248.8" y="306.3" font-size="8.2" fill="#111" stroke="#111" stroke-width="0.22" textLength="66.8" lengthAdjust="spacingAndGlyphs" >AYPGKF (100μM)</text>
<line x1="244" y1="310.4" x2="285.6" y2="310.4" stroke="#3c3c3c" stroke-width="1.1" />
<line x1="295.6" y1="310.6" x2="337.4" y2="310.6" stroke="#3c3c3c" stroke-width="1.1" />
<g transform="rotate(-1.5 235.6 325.8)">
<text x="235.6" y="325.8" font-size="10.8" font-style="italic" fill="#111" stroke="#111" stroke-width="0.28" textLength="30.6" lengthAdjust="spacingAndGlyphs" >Jam-A</text>
<text x="266.2" y="321.6" font-size="9.9" font-style="italic" fill="#111" stroke="#111" stroke-width="0.28" textLength="22.5" lengthAdjust="spacingAndGlyphs" >wt/wt</text>
</g>
<g transform="rotate(-2.5 296.9 326.6)">
<text x="296.9" y="326.6" font-size="10.8" font-style="italic" fill="#111" stroke="#111" stroke-width="0.28" textLength="30.4" lengthAdjust="spacingAndGlyphs" >Jam-A</text>
<text x="327.3" y="320.2" font-size="10.6" font-style="italic" fill="#111" stroke="#111" stroke-width="0.28" textLength="20.6" lengthAdjust="spacingAndGlyphs" >gt/gt</text>
</g>
<line x1="234" y1="337.1" x2="364" y2="337.1" stroke="#222" stroke-width="1.3" />
<text x="242.1" y="354.7" font-size="12.6" fill="#111" stroke="#111" stroke-width="0.28" textLength="99.7" lengthAdjust="spacingAndGlyphs" >Fibrinogen binding</text>
<line x1="408" y1="153.1" x2="408" y2="214.6" stroke="#0c0c0c" stroke-width="1.5" />
<line x1="407.3" y1="213.9" x2="487" y2="213.9" stroke="#0c0c0c" stroke-width="1.5" />
<line x1="405.8" y1="213.9" x2="408" y2="213.9" stroke="#111" stroke-width="0.9" />
<text x="404.4" y="214.1" font-size="2.8" text-anchor="middle" font-weight="bold" fill="#222" transform="rotate(-90 404.4 214.1)" >0</text>
<line x1="405.8" y1="201.75" x2="408" y2="201.75" stroke="#111" stroke-width="0.9" />
<text x="404.4" y="201.95" font-size="2.8" text-anchor="middle" font-weight="bold" fill="#222" transform="rotate(-90 404.4 201.95)" >100</text>
<line x1="405.8" y1="189.6" x2="408" y2="189.6" stroke="#111" stroke-width="0.9" />
<text x="404.4" y="189.8" font-size="2.8" text-anchor="middle" font-weight="bold" fill="#222" transform="rotate(-90 404.4 189.8)" >200</text>
<line x1="405.8" y1="177.45" x2="408" y2="177.45" stroke="#111" stroke-width="0.9" />
<text x="404.4" y="177.65" font-size="2.8" text-anchor="middle" font-weight="bold" fill="#222" transform="rotate(-90 404.4 177.65)" >300</text>
<line x1="405.8" y1="165.3" x2="408" y2="165.3" stroke="#111" stroke-width="0.9" />
<text x="404.4" y="165.5" font-size="2.8" text-anchor="middle" font-weight="bold" fill="#222" transform="rotate(-90 404.4 165.5)" >400</text>
<line x1="405.8" y1="153.15" x2="408" y2="153.15" stroke="#111" stroke-width="0.9" />
<text x="404.4" y="153.35" font-size="2.8" text-anchor="middle" font-weight="bold" fill="#222" transform="rotate(-90 404.4 153.35)" >500</text>
<line x1="406.6" y1="213.9" x2="408" y2="213.9" stroke="#222" stroke-width="0.45" />
<line x1="406.6" y1="211.47" x2="408" y2="211.47" stroke="#222" stroke-width="0.45" />
<line x1="406.6" y1="209.04" x2="408" y2="209.04" stroke="#222" stroke-width="0.45" />
<line x1="406.6" y1="206.61" x2="408" y2="206.61" stroke="#222" stroke-width="0.45" />
<line x1="406.6" y1="204.18" x2="408" y2="204.18" stroke="#222" stroke-width="0.45" />
<line x1="406.6" y1="201.75" x2="408" y2="201.75" stroke="#222" stroke-width="0.45" />
<line x1="406.6" y1="199.32" x2="408" y2="199.32" stroke="#222" stroke-width="0.45" />
<line x1="406.6" y1="196.89" x2="408" y2="196.89" stroke="#222" stroke-width="0.45" />
<line x1="406.6" y1="194.46" x2="408" y2="194.46" stroke="#222" stroke-width="0.45" />
<line x1="406.6" y1="192.03" x2="408" y2="192.03" stroke="#222" stroke-width="0.45" />
<line x1="406.6" y1="189.6" x2="408" y2="189.6" stroke="#222" stroke-width="0.45" />
<line x1="406.6" y1="187.17" x2="408" y2="187.17" stroke="#222" stroke-width="0.45" />
<line x1="406.6" y1="184.74" x2="408" y2="184.74" stroke="#222" stroke-width="0.45" />
<line x1="406.6" y1="182.31" x2="408" y2="182.31" stroke="#222" stroke-width="0.45" />
<line x1="406.6" y1="179.88" x2="408" y2="179.88" stroke="#222" stroke-width="0.45" />
<line x1="406.6" y1="177.45" x2="408" y2="177.45" stroke="#222" stroke-width="0.45" />
<line x1="406.6" y1="175.02" x2="408" y2="175.02" stroke="#222" stroke-width="0.45" />
<line x1="406.6" y1="172.59" x2="408" y2="172.59" stroke="#222" stroke-width="0.45" />
<line x1="406.6" y1="170.16" x2="408" y2="170.16" stroke="#222" stroke-width="0.45" />
<line x1="406.6" y1="167.73" x2="408" y2="167.73" stroke="#222" stroke-width="0.45" />
<line x1="406.6" y1="165.3" x2="408" y2="165.3" stroke="#222" stroke-width="0.45" />
<line x1="406.6" y1="162.87" x2="408" y2="162.87" stroke="#222" stroke-width="0.45" />
<line x1="406.6" y1="160.44" x2="408" y2="160.44" stroke="#222" stroke-width="0.45" />
<line x1="406.6" y1="158.01" x2="408" y2="158.01" stroke="#222" stroke-width="0.45" />
<line x1="406.6" y1="155.58" x2="408" y2="155.58" stroke="#222" stroke-width="0.45" />
<line x1="406.6" y1="153.15" x2="408" y2="153.15" stroke="#222" stroke-width="0.45" />
<line x1="408" y1="214" x2="408" y2="216" stroke="#111" stroke-width="0.9" />
<text x="405.4" y="219.8" font-size="3.4" font-weight="bold" fill="#222" >10</text>
<text x="409.2" y="218.2" font-size="2.6" font-weight="bold" fill="#222" >0</text>
<line x1="427.5" y1="214" x2="427.5" y2="216" stroke="#111" stroke-width="0.9" />
<text x="424.9" y="219.8" font-size="3.4" font-weight="bold" fill="#222" >10</text>
<text x="428.7" y="218.2" font-size="2.6" font-weight="bold" fill="#222" >1</text>
<line x1="446.9" y1="214" x2="446.9" y2="216" stroke="#111" stroke-width="0.9" />
<text x="444.3" y="219.8" font-size="3.4" font-weight="bold" fill="#222" >10</text>
<text x="448.1" y="218.2" font-size="2.6" font-weight="bold" fill="#222" >2</text>
<line x1="466.3" y1="214" x2="466.3" y2="216" stroke="#111" stroke-width="0.9" />
<text x="463.7" y="219.8" font-size="3.4" font-weight="bold" fill="#222" >10</text>
<text x="467.5" y="218.2" font-size="2.6" font-weight="bold" fill="#222" >3</text>
<line x1="485.6" y1="214" x2="485.6" y2="216" stroke="#111" stroke-width="0.9" />
<text x="483.0" y="219.8" font-size="3.4" font-weight="bold" fill="#222" >10</text>
<text x="486.8" y="218.2" font-size="2.6" font-weight="bold" fill="#222" >4</text>
<line x1="413.84" y1="214" x2="413.84" y2="215.2" stroke="#333" stroke-width="0.35" />
<line x1="417.26" y1="214" x2="417.26" y2="215.2" stroke="#333" stroke-width="0.35" />
<line x1="419.68" y1="214" x2="419.68" y2="215.2" stroke="#333" stroke-width="0.35" />
<line x1="421.56" y1="214" x2="421.56" y2="215.2" stroke="#333" stroke-width="0.35" />
<line x1="423.1" y1="214" x2="423.1" y2="215.2" stroke="#333" stroke-width="0.35" />
<line x1="424.39" y1="214" x2="424.39" y2="215.2" stroke="#333" stroke-width="0.35" />
<line x1="425.52" y1="214" x2="425.52" y2="215.2" stroke="#333" stroke-width="0.35" />
<line x1="426.51" y1="214" x2="426.51" y2="215.2" stroke="#333" stroke-width="0.35" />
<line x1="433.24" y1="214" x2="433.24" y2="215.2" stroke="#333" stroke-width="0.35" />
<line x1="436.66" y1="214" x2="436.66" y2="215.2" stroke="#333" stroke-width="0.35" />
<line x1="439.08" y1="214" x2="439.08" y2="215.2" stroke="#333" stroke-width="0.35" />
<line x1="440.96" y1="214" x2="440.96" y2="215.2" stroke="#333" stroke-width="0.35" />
<line x1="442.5" y1="214" x2="442.5" y2="215.2" stroke="#333" stroke-width="0.35" />
<line x1="443.79" y1="214" x2="443.79" y2="215.2" stroke="#333" stroke-width="0.35" />
<line x1="444.92" y1="214" x2="444.92" y2="215.2" stroke="#333" stroke-width="0.35" />
<line x1="445.91" y1="214" x2="445.91" y2="215.2" stroke="#333" stroke-width="0.35" />
<line x1="452.64" y1="214" x2="452.64" y2="215.2" stroke="#333" stroke-width="0.35" />
<line x1="456.06" y1="214" x2="456.06" y2="215.2" stroke="#333" stroke-width="0.35" />
<line x1="458.48" y1="214" x2="458.48" y2="215.2" stroke="#333" stroke-width="0.35" />
<line x1="460.36" y1="214" x2="460.36" y2="215.2" stroke="#333" stroke-width="0.35" />
<line x1="461.9" y1="214" x2="461.9" y2="215.2" stroke="#333" stroke-width="0.35" />
<line x1="463.19" y1="214" x2="463.19" y2="215.2" stroke="#333" stroke-width="0.35" />
<line x1="464.32" y1="214" x2="464.32" y2="215.2" stroke="#333" stroke-width="0.35" />
<line x1="465.31" y1="214" x2="465.31" y2="215.2" stroke="#333" stroke-width="0.35" />
<line x1="472.04" y1="214" x2="472.04" y2="215.2" stroke="#333" stroke-width="0.35" />
<line x1="475.46" y1="214" x2="475.46" y2="215.2" stroke="#333" stroke-width="0.35" />
<line x1="477.88" y1="214" x2="477.88" y2="215.2" stroke="#333" stroke-width="0.35" />
<line x1="479.76" y1="214" x2="479.76" y2="215.2" stroke="#333" stroke-width="0.35" />
<line x1="481.3" y1="214" x2="481.3" y2="215.2" stroke="#333" stroke-width="0.35" />
<line x1="482.59" y1="214" x2="482.59" y2="215.2" stroke="#333" stroke-width="0.35" />
<line x1="483.72" y1="214" x2="483.72" y2="215.2" stroke="#333" stroke-width="0.35" />
<line x1="484.71" y1="214" x2="484.71" y2="215.2" stroke="#333" stroke-width="0.35" />
<text x="386.9" y="199.4" font-size="8.4" fill="#111" stroke="#111" stroke-width="0.22" textLength="26.3" lengthAdjust="spacingAndGlyphs" transform="rotate(-90 386.9 199.4)" >Counts</text>
<path d="M408.50 202.73 L408.76 202.60 L409.11 203.08 L409.53 202.93 L409.98 202.66 L410.40 202.63 L410.81 202.30 L411.24 201.85 L411.66 201.49 L412.09 201.22 L412.50 201.38 L412.89 200.66 L413.28 200.38 L413.65 200.06 L414.03 199.34 L414.40 199.03 L414.78 198.52 L415.16 198.25 L415.53 197.40 L415.90 196.73 L416.25 196.52 L416.58 195.53 L416.89 195.06 L417.19 194.17 L417.49 193.02 L417.80 192.54 L418.12 191.80 L418.44 191.26 L418.76 190.19 L419.08 189.66 L419.40 188.78 L419.72 187.78 L420.04 187.47 L420.37 186.16 L420.69 185.93 L421.00 184.77 L421.31 183.97 L421.63 183.44 L421.93 183.19 L422.23 182.75 L422.50 181.55 L422.75 181.45 L422.98 181.07 L423.20 180.96 L423.41 180.24 L423.60 180.20 L423.78 179.84 L423.94 179.95 L424.09 179.37 L424.24 179.73 L424.40 179.25 L424.57 179.28 L424.75 179.78 L424.93 179.88 L425.12 179.93 L425.30 180.70 L425.49 180.77 L425.68 181.79 L425.87 182.34 L426.06 183.12 L426.25 183.84 L426.44 184.63 L426.63 185.79 L426.82 187.00 L427.01 188.61 L427.20 189.31 L427.38 191.16 L427.56 191.89 L427.74 193.38 L427.92 194.77 L428.10 196.53 L428.28 197.53 L428.46 198.71 L428.63 200.31 L428.81 201.06 L429.00 202.37 L429.20 203.54 L429.40 204.79 L429.60 205.83 L429.80 206.73 L430.00 207.39 L430.18 208.14 L430.36 208.70 L430.54 209.78 L430.72 210.20 L430.90 210.77 L431.11 210.87 L431.34 211.53 L431.57 212.19 L431.76 212.40 L431.90 212.34" fill="none" stroke="#0a0a0a" stroke-width="1.6" stroke-linejoin="round" stroke-linecap="round" />
<path d="M408.60 213.20 L431.60 213.20" fill="none" stroke="#1c1c1c" stroke-width="1.0" stroke-linejoin="round" stroke-linecap="round" />
<path d="M431.90 212.47 L432.09 212.57 L432.35 211.88 L432.66 211.55 L432.99 211.25 L433.31 211.08 L433.60 210.64 L433.85 209.50 L434.09 208.74 L434.32 207.95 L434.55 207.11 L434.78 206.33 L435.00 205.16 L435.22 204.37 L435.44 203.36 L435.66 202.96 L435.88 201.82 L436.09 200.37 L436.30 199.92 L436.51 198.22 L436.71 197.26 L436.91 196.49 L437.11 195.15 L437.31 193.88 L437.50 192.45 L437.69 191.06 L437.88 190.13 L438.06 188.51 L438.24 187.32 L438.42 186.18 L438.60 184.67 L438.77 183.67 L438.94 182.69 L439.11 181.35 L439.27 179.95 L439.43 178.77 L439.60 177.37 L439.77 175.84 L439.94 174.82 L440.11 173.33 L440.27 172.24 L440.44 171.08 L440.60 169.55 L440.76 168.50 L440.91 167.50 L441.06 166.20 L441.21 165.07 L441.36 164.52 L441.50 163.87 L441.64 163.13 L441.78 162.50 L441.91 162.13 L442.04 161.66 L442.17 161.43 L442.30 161.27 L442.42 161.34 L442.54 161.93 L442.65 162.07 L442.76 162.93 L442.88 163.87 L443.00 164.55 L443.13 165.27 L443.26 165.89 L443.39 166.97 L443.53 167.98 L443.67 169.10 L443.80 169.94 L443.93 171.09 L444.06 172.25 L444.19 172.72 L444.32 174.05 L444.46 175.16 L444.60 175.92 L444.75 177.07 L444.91 178.51 L445.07 178.98 L445.24 180.45 L445.41 181.29 L445.60 182.80 L445.79 183.94 L446.00 184.66 L446.21 185.36 L446.43 186.67 L446.66 187.64 L446.90 188.75 L447.15 189.60 L447.40 190.68 L447.67 191.79 L447.95 192.57 L448.26 193.50 L448.60 194.91 L448.98 195.50 L449.41 197.01 L449.86 198.00 L450.31 199.41 L450.77 200.03 L451.20 201.54 L451.61 201.84 L452.01 202.23 L452.40 202.90 L452.79 203.44 L453.19 203.61 L453.60 204.34 L454.02 204.80 L454.45 205.42 L454.89 205.59 L455.33 205.93 L455.76 206.30 L456.20 207.07 L456.64 207.63 L457.07 207.78 L457.51 208.00 L457.95 208.83 L458.38 208.95 L458.80 209.20 L459.21 209.49 L459.61 210.26 L460.00 210.59 L460.39 210.75 L460.79 210.91 L461.20 211.24 L461.62 211.27 L462.06 212.04 L462.49 211.86 L462.93 212.29 L463.37 212.63 L463.80 212.82 L464.21 212.75 L464.60 212.79 L464.98 213.11 L465.38 212.94 L465.82 213.54 L466.30 213.30 L466.89 213.72 L467.58 213.36 L468.31 213.46 L469.00 213.40 L469.58 213.53 L470.00 213.38" fill="none" stroke="#a2a2a2" stroke-width="0.8" stroke-linejoin="round" stroke-linecap="round" />
<path d="M431.90 212.20 L432.09 212.55 L432.35 211.91 L432.66 211.52 L432.99 211.14 L433.31 210.77 L433.60 210.14 L433.85 209.61 L434.09 208.83 L434.32 207.71 L434.55 207.24 L434.78 206.23 L435.00 204.65 L435.22 204.32 L435.44 203.41 L435.66 202.32 L435.88 200.79 L436.09 200.31 L436.30 199.11 L436.51 197.55 L436.71 196.46 L436.91 196.11 L437.11 194.74 L437.31 193.27 L437.50 191.98 L437.69 190.81 L437.88 189.66 L438.06 188.84 L438.24 187.23 L438.42 185.80 L438.60 185.12 L438.77 183.75 L438.94 181.95 L439.11 181.22 L439.27 179.68 L439.43 178.52 L439.60 177.13 L439.77 176.02 L439.94 174.62 L440.11 173.36 L440.27 171.57 L440.44 170.73 L440.60 169.42 L440.76 168.46 L440.91 167.09 L441.07 166.37 L441.21 165.10 L441.36 163.97 L441.50 163.19 L441.63 162.47 L441.76 162.19 L441.89 161.39 L442.01 161.39 L442.13 160.96 L442.25 161.24 L442.36 161.46 L442.47 161.89 L442.58 162.71 L442.68 162.69 L442.79 164.10 L442.90 164.57 L443.01 165.48 L443.13 166.48 L443.24 167.62 L443.36 168.30 L443.48 169.42 L443.60 170.97 L443.73 171.42 L443.85 173.10 L443.98 174.37 L444.11 175.16 L444.25 176.88 L444.40 178.15 L444.55 179.51 L444.70 180.17 L444.86 181.81 L445.02 182.53 L445.20 183.57 L445.40 184.92 L445.62 185.20 L445.86 186.66 L446.11 187.48 L446.37 188.12 L446.63 189.40 L446.90 189.89 L447.17 190.89 L447.44 191.85 L447.72 192.97 L448.00 193.43 L448.30 194.49 L448.60 195.34 L448.91 196.26 L449.24 197.25 L449.57 197.58 L449.91 198.76 L450.25 199.17 L450.60 200.00 L450.96 200.59 L451.32 201.56 L451.69 202.72 L452.06 203.23 L452.43 204.10 L452.80 204.46 L453.17 205.17 L453.53 205.88 L453.90 206.81 L454.27 207.52 L454.63 208.26 L455.00 208.23 L455.37 209.28 L455.73 209.86 L456.10 209.99 L456.47 209.96 L456.83 210.51 L457.20 210.60 L457.55 211.07 L457.88 211.96 L458.21 211.99 L458.56 212.28 L458.95 212.62 L459.40 212.93 L459.90 212.88 L460.44 213.04 L461.02 213.19 L461.64 213.36 L462.30 213.39 L463.00 213.54 L463.81 213.24 L464.75 213.65 L465.73 213.52 L466.65 213.78 L467.44 213.27 L468.00 213.35" fill="none" stroke="#202020" stroke-width="0.9" stroke-linejoin="round" stroke-linecap="round" />
<text x="413.5" y="174.5" font-size="8.6" fill="#111" stroke="#111" stroke-width="0.22" textLength="13.2" lengthAdjust="spacingAndGlyphs" >IgG</text>
<polygon points="417.60,187.60 415.48,181.76 418.67,181.48" fill="#000" />
<polygon points="444.40,169.40 450.00,167.90 450.00,170.90" fill="#000" />
<g transform="rotate(-1 449.4 173.4)">
<text x="449.4" y="173.4" font-size="8.4" font-style="italic" fill="#111" stroke="#111" stroke-width="0.22" textLength="23.9" lengthAdjust="spacingAndGlyphs" >Jam-A</text>
<text x="473.5" y="167.4" font-size="8.3" font-style="italic" fill="#111" stroke="#111" stroke-width="0.22" textLength="19" lengthAdjust="spacingAndGlyphs" >wt/wt</text>
</g>
<polygon points="445.60,185.60 451.20,184.10 451.20,187.10" fill="#000" />
<g transform="rotate(-1 451.9 188.7)">
<text x="451.9" y="188.7" font-size="8.4" font-style="italic" fill="#111" stroke="#111" stroke-width="0.22" textLength="24.2" lengthAdjust="spacingAndGlyphs" >Jam-A</text>
<text x="476.2" y="182.0" font-size="8.5" font-style="italic" fill="#111" stroke="#111" stroke-width="0.22" textLength="16.5" lengthAdjust="spacingAndGlyphs" >gt/gt</text>
</g>
<text x="384.9" y="303.1" font-size="7.7" fill="#111" stroke="#111" stroke-width="0.22" textLength="63.7" lengthAdjust="spacingAndGlyphs" transform="rotate(-90 384.9 303.1)" >Mean fluorescence</text>
<text x="392.3" y="295" font-size="7.7" fill="#111" stroke="#111" stroke-width="0.22" textLength="51.2" lengthAdjust="spacingAndGlyphs" transform="rotate(-90 392.3 295)" >intensity (A.U)</text>
<text x="405.6" y="306.3" font-size="7.0" text-anchor="end" fill="#111" stroke="#111" stroke-width="0.15" textLength="3.35" lengthAdjust="spacingAndGlyphs" >0</text>
<text x="405.6" y="293.43" font-size="7.0" text-anchor="end" fill="#111" stroke="#111" stroke-width="0.15" textLength="10.05" lengthAdjust="spacingAndGlyphs" >100</text>
<text x="405.6" y="280.56" font-size="7.0" text-anchor="end" fill="#111" stroke="#111" stroke-width="0.15" textLength="10.05" lengthAdjust="spacingAndGlyphs" >200</text>
<text x="405.6" y="267.69" font-size="7.0" text-anchor="end" fill="#111" stroke="#111" stroke-width="0.15" textLength="10.05" lengthAdjust="spacingAndGlyphs" >300</text>
<text x="405.6" y="254.82" font-size="7.0" text-anchor="end" fill="#111" stroke="#111" stroke-width="0.15" textLength="10.05" lengthAdjust="spacingAndGlyphs" >400</text>
<text x="405.6" y="241.95" font-size="7.0" text-anchor="end" fill="#111" stroke="#111" stroke-width="0.15" textLength="10.05" lengthAdjust="spacingAndGlyphs" >500</text>
<line x1="407.8" y1="238.8" x2="407.8" y2="304.4" stroke="#bcbcbc" stroke-width="0.9" />
<line x1="407.8" y1="304.4" x2="494" y2="304.4" stroke="#9a9a9a" stroke-width="0.9" />
<line x1="437" y1="311.9" x2="494" y2="311.9" stroke="#d0d0d0" stroke-width="0.7" />
<rect x="433.75" y="298.1" width="5.25" height="6.3" fill="#000" />
<rect x="440.1" y="297.6" width="4.55" height="6.8" fill="#fff" stroke="#1c1c1c" stroke-width="0.7" />
<rect x="449" y="263.1" width="5.4" height="41.3" fill="#000" />
<line x1="451.5" y1="263.1" x2="451.5" y2="255.6" stroke="#8a8a8a" stroke-width="0.6" />
<line x1="450.6" y1="255.6" x2="452.4" y2="255.6" stroke="#8a8a8a" stroke-width="0.6" />
<rect x="455.6" y="257.6" width="4.65" height="46.8" fill="#fff" stroke="#1c1c1c" stroke-width="0.7" />
<line x1="457.9" y1="257.25" x2="457.9" y2="254" stroke="#8a8a8a" stroke-width="0.6" />
<line x1="457.0" y1="254" x2="458.8" y2="254" stroke="#8a8a8a" stroke-width="0.6" />
<rect x="464.75" y="249.75" width="5.25" height="54.65" fill="#000" />
<line x1="467.25" y1="249.75" x2="467.25" y2="244.75" stroke="#8a8a8a" stroke-width="0.6" />
<line x1="466.35" y1="244.75" x2="468.15" y2="244.75" stroke="#8a8a8a" stroke-width="0.6" />
<rect x="470.95" y="251.6" width="4.95" height="52.8" fill="#fff" stroke="#1c1c1c" stroke-width="0.7" />
<line x1="473.5" y1="251.25" x2="473.5" y2="248.75" stroke="#8a8a8a" stroke-width="0.6" />
<line x1="472.6" y1="248.75" x2="474.4" y2="248.75" stroke="#8a8a8a" stroke-width="0.6" />
<rect x="480.25" y="249.75" width="5.35" height="54.65" fill="#000" />
<line x1="482.75" y1="249.75" x2="482.75" y2="243.75" stroke="#8a8a8a" stroke-width="0.6" />
<line x1="481.85" y1="243.75" x2="483.65" y2="243.75" stroke="#8a8a8a" stroke-width="0.6" />
<rect x="486.6" y="251.6" width="4.95" height="52.8" fill="#fff" stroke="#1c1c1c" stroke-width="0.7" />
<line x1="489" y1="251.25" x2="489" y2="249" stroke="#8a8a8a" stroke-width="0.6" />
<line x1="488.1" y1="249" x2="489.9" y2="249" stroke="#8a8a8a" stroke-width="0.6" />
<rect x="411.7" y="244" width="6.8" height="1.7" fill="#000" />
<rect x="411.9" y="247.7" width="5.1" height="1.6" fill="#ececec" stroke="#a0a0a0" stroke-width="0.5" />
<g>
<text x="419.4" y="245.8" font-size="5.0" font-style="italic" fill="#111" stroke="#111" stroke-width="0.15" textLength="14.4" lengthAdjust="spacingAndGlyphs" >Jam-A</text>
<text x="433.8" y="241.9" font-size="5.3" font-style="italic" fill="#111" stroke="#111" stroke-width="0.15" textLength="12.1" lengthAdjust="spacingAndGlyphs" >wt/wt</text>
</g>
<g>
<text x="418.6" y="250.8" font-size="5.0" font-style="italic" fill="#111" stroke="#111" stroke-width="0.15" textLength="14.8" lengthAdjust="spacingAndGlyphs" >Jam-A</text>
<text x="433.8" y="247.0" font-size="5.3" font-style="italic" fill="#111" stroke="#111" stroke-width="0.15" textLength="10.6" lengthAdjust="spacingAndGlyphs" >gt/gt</text>
</g>
<text x="468.75" y="237.5" font-size="9.0" fill="#111" stroke="#111" stroke-width="0.28" textLength="12.5" lengthAdjust="spacingAndGlyphs" >NS</text>
<line x1="453.1" y1="240.6" x2="496" y2="240.6" stroke="#3c3c3c" stroke-width="1.3" />
<text x="417.25" y="310.6" font-size="7.9" fill="#111" stroke="#111" stroke-width="0.22" textLength="12.75" lengthAdjust="spacingAndGlyphs" >IgG</text>
<text x="434.4" y="311" font-size="7.8" fill="#111" stroke="#111" stroke-width="0.22" textLength="9.3" lengthAdjust="spacingAndGlyphs" >25</text>
<text x="450" y="311" font-size="7.8" fill="#111" stroke="#111" stroke-width="0.22" textLength="9.4" lengthAdjust="spacingAndGlyphs" >50</text>
<text x="465.6" y="311" font-size="7.8" fill="#111" stroke="#111" stroke-width="0.22" textLength="8.8" lengthAdjust="spacingAndGlyphs" >75</text>
<text x="481.25" y="311" font-size="7.8" fill="#111" stroke="#111" stroke-width="0.22" textLength="12.8" lengthAdjust="spacingAndGlyphs" >100</text>
<text x="438.1" y="319.8" font-size="8.0" fill="#111" stroke="#111" stroke-width="0.22" textLength="51" lengthAdjust="spacingAndGlyphs" >AYPGKF (μM)</text>
<line x1="397.5" y1="337.5" x2="516.3" y2="337.5" stroke="#333" stroke-width="1.5" />
<text x="423.75" y="355" font-size="12.6" fill="#111" stroke="#111" stroke-width="0.28" textLength="78.3" lengthAdjust="spacingAndGlyphs" >JON/A binding</text>
</svg>
</body></html>
